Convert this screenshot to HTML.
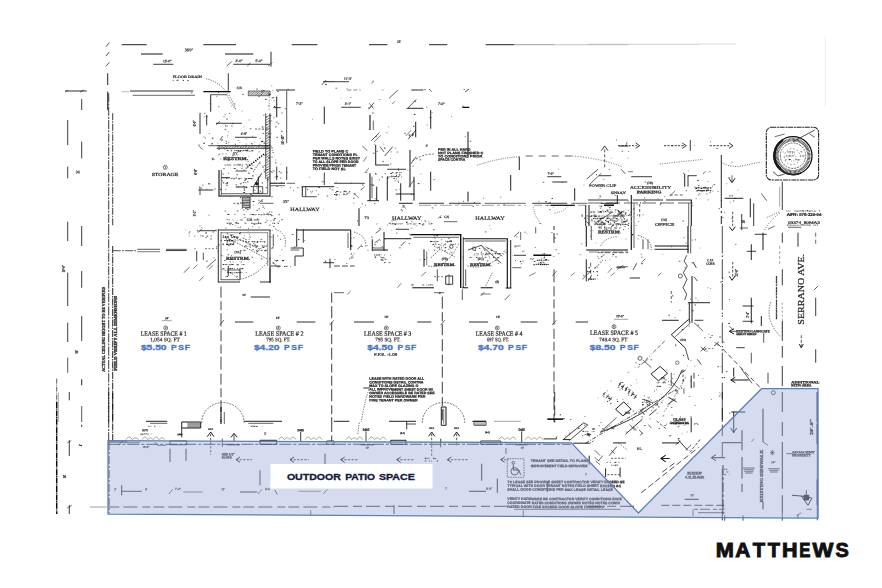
<!DOCTYPE html>
<html><head><meta charset="utf-8"><title>Floor plan</title>
<style>
html,body{margin:0;padding:0;background:#fff;}
body{width:882px;height:588px;overflow:hidden;position:relative;font-family:"Liberation Sans",sans-serif;}
svg{position:absolute;left:0;top:0;display:block}
</style></head><body>
<svg width="882" height="588" viewBox="0 0 882 588">
<rect width="882" height="588" fill="#fff"/>
<g fill="none" stroke-linecap="butt" filter="url(#soft)">
<path stroke="#0d0d0d" stroke-width="0.92" d="M121.7 44.7H146.7M203.3 44.7H236M291.7 44.7H317.3M141 54H162.7M225 54H253.3M107.7 73.3V85M107.7 91.7V110M210.7 94.7V111.7M270 113.3V196.7M276.7 96.7V117.3M221.3 177.7H230M258.3 176.7V193.3M323.3 81.7H334M324.3 106.7V124M301.7 186.7H334M302.3 186.7V196.7M369 44.7H387.3M429 44.7H447.3M406.7 108.3H423.3M415.7 121.7V137.3M430.7 110V128.7M468 131.7V155.3M375.7 145V165.3M410 150V187.3M519.3 156.7V170M510.7 175V190.7M430.7 171.7V190.7M468 191.7V200.7M574.7 188.3V200.7M376.7 186.7V200.7M387.3 176.7V200.7M400.7 183.3V200.7M414 176.7V200.7M367.3 200.7H379M600.7 203.3H618M399 203.3H412.7M359 208.3V226M585.7 205V226M589 205V226M721.3 155V196.7M729 178.3L732 182.7L735 178.3M724.7 198.3H743.3M750.3 198.3V217.3M721.3 196.7V200.7M684.7 174V186.7M617.3 195V203.3M81.7 379.3V385.3M240 269.3V279.3M296.7 228.7V246.7M270 257.7V282.7M372.3 239.3V251M384 232V251M372.3 250H388M384 238.7H411.3M424 249.3V266.7M510.7 240V288M586.3 259.3V281.3M654.7 246H688.7M654.7 249.3H688.7M692 276V322.7M689.3 302.7V322.7M688 302.7H710M662 320.3H678.7M688.7 319.3L671.3 334.7M671.3 334.7L685.3 348M722.3 255.7V257M722.3 280.7V282M722.3 312.7V314M722.3 315.3V316.7M722.3 346V347.3M722.3 349.3V350.7M722.3 377V378.3M751.3 244.3V260M763 232.7V250M751.3 297.7V323.3M729.3 276L732 280.3L735 276M729.3 226.7L732.3 230.7L735.3 226.7M761.3 316V326M734 328.7L729.3 331.3L734 334M731.3 380H748.7M735.3 377.3L730.7 380L735.3 382.7M733.7 367.7V376.7M81.7 424.7V426.7M108.3 442H126.7M260 440.3L276.7 440.3L276.7 444.3L260 444.3ZM146 421.3H167.3M181.7 422L200.7 422L200.7 428L181.7 428ZM244 421.3H282M207.3 436.7L210.7 432L214 436.7M231 437.3L234 433.3L237 437.3M240 457L236 459.7L240 462.3M294 457L290 459.7L294 462.3M121.7 485.3V495.3M441.3 407L446 407L446 425.3L441.3 425.3ZM334 421.3H349.3M389 421.3H416M472.3 421.3H486M428.7 436.3L431.7 432L434.7 436.3M453.7 436.3L456.7 432L459.7 436.3M390.7 440.3L406 440.3L406 444.3L390.7 444.3ZM344.7 457L340.7 459.7L344.7 462.3M400.7 457L396.7 459.7L400.7 462.3M451.3 457L447.3 459.7L451.3 462.3M504.7 457L500.7 459.7L504.7 462.3M481.7 463.7V480.7M497.3 478.7V492.7M469 491.3H486M513.3 464.3L513.3 470L518.7 470L520.7 474.7M547.3 419.5H563M615.6 409.2L623.8 401.9L631.1 409.2L622.9 415.9ZM651.1 374L660.2 366.4L667.5 373.3L658.4 380.9ZM562.8 439.6H570.1M573.2 443.2H589.5M691.2 375.5V388.2M691.2 417.4V432.3M662 442.9H678.8M660.9 458.5H669.7M612.9 442.9H626M589.2 455.6V464.7M605.6 468.4V477.1M620.1 467.4V477.1M733.7 412V432.7M730.7 428L733.7 432.7L736.7 428M731.3 412H745.3M716 454.7L711.3 457.7L716 460.7M711.3 457.7H725.3M723 442.7H741.3M742 430.3V450.3M742 457V478.7M742 483.7V492M763 408.7V442M763 502V509.3M782.3 392V412M782.3 422V436M782.3 442V488.7M782.3 495.3V512.7M792 495.3L801.3 496L808 505.3L812 498L801.3 496M684.7 499.3H698.7"/>
<path stroke="#0d0d0d" stroke-width="0.82" d="M153.3 64.3H173.3M233.3 64.3H270M271 51.7V66.7M65 91H86.7M81.7 99V110M67.7 120V145M81.7 141.7V158.3M67.7 166.7V178.3M67.7 221.7V226M130 91H193.3M228.3 73.3V90.7M276 90H295M273.3 107.7H280.7M216 123.3H241.7M235 137.3H256.7M200 113.3V134M206.7 115.3V125.3M216.7 148.3H270M235.7 187H246.7M253.3 186.7L261.7 173.3M198.3 190H213.3M250 196.7V208.7M276.7 166.7V180M286.7 166.7V180M324.3 173.3V185M334 81.7H349M411.3 90H423.3M341.3 107.3H360.7M375.7 165H389M547.3 176.7H561.3M552.3 182H567.3M601.3 150.7L604.7 146L608 150.7M619.3 146H628M599 175.7H611.3M334 183.3H364.7M387.3 169.3H406M395.7 194H414.7M419 203.3H444M449 203.3H480.7M532.3 203.3H567.3M635.7 143L639.7 145.7L635.7 148.3M682.3 143L686.3 145.7L682.3 148.3M729 143L733 145.7L729 148.3M690.3 140V150.7M782.3 181.7V210M741.7 214V230M753.7 203.3V226M631.3 176.7H652M688 175.3V186.7M688 175.7H696.7M588 200H628M67.7 226V241M81.7 226V246M67.7 272.7V306M81.7 271V287.7M81.7 316V341M67.7 322.7V342M218.3 230H270.7M270 230V259.3M270 267.7V282.7M218.3 282H240M260 282H270.7M228.3 266V276M196.7 251V261.3M199.3 230.7H216.7M303.3 229.3V242.7M290.7 248L303.3 248L303.3 256L295 256L295 266M323.3 262.7H334M330 258.7V268M250.7 297H270M235 322H253.3M296.7 322H315.3M395.7 229.3H409M463.3 237.3V288M445.7 276L452.7 276L452.7 284.3L445.7 284.3ZM514 255.3H526M354 322H374M417.3 322H431.3M469 322H488M520.7 322H537.3M575.7 322H588M363.3 388H369.3M629.7 278H640M693 262L696.3 267.7M694.7 320.3H703.3M746.7 251.3H756M754.7 234.3H766.7M742.7 306H753.3M742.7 321.3H753.3M782.3 232.7V242.7M782.3 269.3V285.3M782.3 321V341M782.3 346V357.7M782.3 366V386M799.3 344L801.3 348L803.3 344M798 232.7V246.7M815.7 297.7V316M815.7 349.3V362.7M736.3 347.7H744.7M69.3 392V400.3M69.3 440.3V456M69.3 505.3V514M170 441L186.7 441L186.7 444.7L170 444.7ZM326.7 441L334 441L334 444.3L326.7 444.3ZM181.7 428V437.3M300.7 432V442M170 448.7V462M186 448.7V460.7M325 453.7V464M260 470.3V485.3M121.7 491.3H141.7M240 492H257.3M547.3 418.7H564.7M406.7 421.3V429.3M521.7 431.3V442.7M480.7 441L500.7 441L500.7 444.3L480.7 444.3ZM440.7 438.7V447.3M512 462.7a1.3 1.3 0 1 0 2.6 0a1.3 1.3 0 1 0 -2.6 0M511 471.3a3.7 3.7 0 1 0 7.4 0a3.7 3.7 0 1 0 -7.4 0M547.3 481.3V492M394 505.3V514M618.7 386L621.2 382M621.8 388.6L624.3 384.6M624.9 391.1L627.4 387.1M628 393.7L630.5 389.7M631.1 396.2L633.6 392.2M634.2 398.8L636.7 394.8M563.7 439.2L583.7 422.8M543.6 438.9H556.4M625.6 434.1L642.4 419.2M649.3 415.5L656.6 409.2M668.4 397.3L676.6 401.9M678.4 439.9L687.9 450.5M722.3 509.3V520.3M806.3 490.3V496"/>
<path stroke="#0d0d0d" stroke-width="0.61" d="M226.7 66L231.7 61.7M247.3 66L250.7 62.7M268.3 66L272.3 62M80 92L84 90M216 124.7L220 121.3M220 140L222.7 136M199.3 146.7L202.7 149.3M221.3 170V195M221.3 193.7H267.7M270 185.7H285M267.7 176.7V193.7M242.3 196.7V208.7M258.3 203.3L262.7 199.3M260 203.3H273.3M286.7 183.3H295M321.7 85L326 80M371.3 83.3L374 80.7M389 98.3L398 90M429 89L431.7 91.7M373.3 120.7V130M380 146.7L384 152M362.3 146L367.3 150.7M410.7 164L416 156.7M590 184L601.3 173.3M372 176.7V198.3M409 186.7L414 180M402.3 205L405.7 208.3M444 221.7H457.3M617.3 210L624 218.3M732 175.3V182M774.7 136.7L784.7 134M809.7 134L814.7 137.3M761.3 193.3L766.7 200.7M625.3 174L621.3 169.3M634 203.3V226M688.7 203.3V226M594.7 223.3L613 211.7M617.3 216.7L623.3 210.7M221 279.7H240M226.7 270H240M184 272.7L189.3 267.3M206.7 267.7L216 259.3M198 232.7L202 228.7M290.7 250H299.3M329.7 325L333.7 320.3M220 324.7L224 320M348 232.7V248M357.3 249.3L362 244.7M373.3 248H384M374.7 242.7L380 239.3M375.7 233.3L380.7 229.3M334 292.7H344M400.7 246L405.3 241.3M413.3 237.3H459M464.7 241H505.7M449.6 246.7a1.7 1.7 0 1 0 3.4 0a1.7 1.7 0 1 0 -3.4 0M472.3 248.7a1.7 1.7 0 1 0 3.4 0a1.7 1.7 0 1 0 -3.4 0M449 274.3V285.3M434 292.7H444M504.7 300L510 294.7M514 236.7L519.3 232M520.7 232V240M512.3 267.7H521.3M440.7 325L444.7 320.3M552 325L556.3 320.3M582.3 279.3L590.7 271M617.3 269.3L623.3 265.3M616.7 266.7H628M634 226V248M648 239.3V249.3M588 281L591.3 276M678.3 276a2 2 0 1 0 4 0a2 2 0 1 0 -4 0M694 322.7L703 331M690.7 322.7L675.3 336.7M638 358.3a2 2 0 1 0 4 0a2 2 0 1 0 -4 0M643 360L651.3 367.7M700.7 346.7L705.3 351.3M671.3 372.7V386M739.7 228H748M768 229.3L774.7 226M788 227.3H801.3M814 290L818 286M729.3 326L733.3 330M67.3 508L71.7 505.3M125 442.7H140M155 442L157.3 445.3L166 445.3M150 423.3H167.3M224.3 412V424M248.3 423.3H273.3M168.7 494L172.7 489.3M258 494L262 489.3M323.3 494L327.3 489.3M310.7 510.3V516M523.3 510.3V517.3M619.1 383.5L620.9 384.6M622.1 386L624 387.1M625.2 388.6L627.1 389.7M628.3 391.1L630.2 392.2M631.4 393.7L633.3 394.8M634.5 396.2L636.4 397.3M600.5 431.9L616.5 417.7M629.6 424.6L635.1 430.5M639.8 409.2L644.7 414.6M642 399.1L652.9 402.8M674.8 390L678.4 393.7M670.2 380.9L678.4 388.2M640.2 435.6L642.4 432.8M648.4 424.6L651.1 427.9M632.9 426.5L636.5 430.1M683.9 388.2V393.7M685.7 450.1L691.2 444.7M611 450.1L614.7 453.8M594.6 450.1L600.1 455.6M598.3 461.1L602.8 455.6M595.6 461.1L600.1 464.7M770 452.7H774.7M772.3 450V455.3M806.3 509.3H812M796.3 516L801.3 512.7M798 514V518.7M693 509.3V516M763 442L768 445.3"/>
<path stroke="#0d0d0d" stroke-width="0.71" d="M106 46.7L109.3 42.7M106 56L109.3 52M106 66.3L109.3 62.3M210.7 94.7H226.7M265.7 113.3V176.7M286.7 90.7V143.3M208.3 145.7H216.7M235.7 171H246.7M253.3 186.7L262.7 186.7L262.7 193.3L253.3 193.3ZM200 186.7V195M242.3 197.3H250M242.3 199H250M242.3 200.7H250M242.3 202.3H250M242.3 204H250M242.3 205.7H250M242.3 207.3H250M305.7 186.7V196.7M302.3 196.7H316.7M465 92L469 89M368.7 109.3L374 102.7M408 108L416.3 99.3M371.3 140.7L379.3 132.7M408 139.3L416 130M384.7 156L392.7 146.7M586.7 179L598 169.3M793 141.7L814.7 130M773 171.7L778 176L784.7 174M618 210L624 216.7M137.3 249.3H160M67.7 357.7V372.7M81.7 406V422M203.3 252.7V260M273.3 234.3V246.7M270 266H280.7M468 250L481.3 245.3L501.3 263.3M437.3 269.3V281.3M465.7 269.3V286M462.3 289.3V300M535.7 227.3V233.3M591.3 226V240M690.7 226V253.3M643 239.3V249.3M616.3 267.7H625.3M633 270L636.7 263.3M686.7 255.3L684 261L687.3 266L683.3 272.7L687 279.3L683 287.7L686.7 294.3L684.7 300M694 276.7L697.3 281M685.3 348L688.7 360M697.3 359.3L701.3 364.7M700.7 351.3L705.3 346.7M714 346L718.7 342M763.7 332.7V342.7M751.3 352.7V363.3M768 372.7V383.3M729.3 331.3H736.7M741.3 368.7L752 383.3M771.3 392.7a2 2 0 1 0 4 0a2 2 0 1 0 -4 0M118.3 445L123.3 441M178.3 434.7H181.7M234 434.7V442M222.3 438.7V447M274.7 490L277.3 494.7M406.7 424H416M474 421.3L486 421.3L486 425.3L474 425.3ZM366 431.3V442M506 448V454M602.8 395.7L605.4 392M606.1 398.2L608.7 394.6M609.4 400.8L611.9 397.1M569.1 440.7L587.7 425M583.7 422.8L587.7 425M556.4 436.5V439.2M638.4 413.7L645.6 407.3M667.5 404.6L675.7 398.8M680.3 373.6L685.7 370M639.3 430.1L642.9 433.8M675.7 444.7L680.3 441M609.2 455.6L616.9 446.5M743 468H754.7M743.7 469.7H754M744.3 471.3H753.3M745 473H752.7M768 468.7H779.7M769 470.3H778.7M770 472H777.7M786.3 453.7H792M698 512.7H724.7M724.7 515.3V520.7M743 515.3V520.7M782.3 512.7V520.7"/>
<path stroke="#0d0d0d" stroke-width="0.82" stroke-dasharray="9 1.2 2 1.2" d="M108.7 93.3V226M108.7 226V422M108.7 392V442"/>
<path stroke="#0d0d0d" stroke-width="0.82" stroke-dasharray="7 1 1.5 1" d="M112.7 113.3V226"/>
<path stroke="#0d0d0d" stroke-width="0.51" d="M65 92L68.3 90.3M265.7 117.7L270 115M265.7 120.3L270 117.7M265.7 123L270 120.3M265.7 125.7L270 123M265.7 128.3L270 125.7M265.7 131L270 128.3M265.7 133.7L270 131M265.7 136.3L270 133.7M265.7 139L270 136.3M265.7 141.7L270 139M265.7 144.3L270 141.7M265.7 147L270 144.3M265.7 149.7L270 147M265.7 152.3L270 149.7M265.7 155L270 152.3M265.7 157.7L270 155M265.7 160.3L270 157.7M265.7 163L270 160.3M265.7 165.7L270 163M265.7 168.3L270 165.7M265.7 171L270 168.3M265.7 173.7L270 171M265.7 176.3L270 173.7M265.7 179L270 176.3M163.3 167.3a2 2 0 1 0 4 0a2 2 0 1 0 -4 0M369.3 103.3L373.3 108.7M392.3 104L394.7 101.3M374 142L380.7 135.3M405.7 136L411.3 130M363.3 161.7L366.7 156.7M364.7 173.3L368.7 168.3M354 193.3L359 198.3M360.7 190L364.7 186.7M438 218.7L441.3 215.3M615.7 216.7L622.3 211.7M628 171.7H633M703 174L705.3 171.3M669.7 196L675.3 190.7M166 249.3H186.7M193.3 268.7L197.3 264.7M208.7 269.3L213.3 265.3M199.3 281L203.3 276.7M273.3 262.7L278.7 268M163.7 328a2 2 0 1 0 4 0a2 2 0 1 0 -4 0M276.3 328a2 2 0 1 0 4 0a2 2 0 1 0 -4 0M349 259.3L353.3 255.3M347.3 294.3L350.7 291M426.7 251.3V265.3M485.7 246.7L502.3 256M421.3 276L426 272M397.3 287.7L401.3 283.3M480.7 294H490.7M480.7 296L484.7 292M529 276L535.7 272.7M514 246H520.7M552.3 276L556.7 271M600.7 257.7L604.7 254.3M570.7 276L574.7 272.7M610.7 276L614.7 272.7M384.3 328a2 2 0 1 0 4 0a2 2 0 1 0 -4 0M495.3 328a2 2 0 1 0 4 0a2 2 0 1 0 -4 0M612 326.7a2 2 0 1 0 4 0a2 2 0 1 0 -4 0M594.7 268.7L599.3 264M608 272.7L612 268M641.3 262.7L645.3 258.7M658 276L661.3 272.7M644 363.3L648 359.3M675.6 362.7a1.7 1.7 0 1 0 3.4 0a1.7 1.7 0 1 0 -3.4 0M714.7 342L718.7 346M67.3 442.7L71.3 440.7M187.3 423.3H200.7M187.3 424.7H200.7M187.3 426H200.7M187.3 427H200.7M443.7 408.7V423.7M476 421.3V425.3M478 421.3V425.3M480 421.3V425.3M482 421.3V425.3M484 421.3V425.3M603.2 393.5L605 394.6M606.5 396L608.3 397.1M609.8 398.6L611.6 399.7M594.6 457.4L599.2 461.1M770.7 450.7L774 454.7M774 450.7L770.7 454.7M751.3 442L754 438.7"/>
<path stroke="#2a2a2a" stroke-width="0.71" d="M132.7 95.3H195M484.7 203.3H525.7M571.3 203.3H587.3M514 509.3H620.7"/>
<path stroke="#777" stroke-width="0.51" d="M121.7 91.7H129.3"/>
<path stroke="#0d0d0d" stroke-width="1.33" d="M203.3 91.7H230.7M550.7 205.3H574.7M460.7 234.7V288"/>
<path stroke="#161616" stroke-width="0.51" d="M248.3 91L270 91L270 95.7L248.3 95.7ZM248.3 92.7L250 91M248.3 94.3L251.7 91M248.7 95.7L253.3 91M250.3 95.7L255 91M252 95.7L256.7 91M253.7 95.7L258.3 91M255.3 95.7L260 91M257 95.7L261.7 91M258.7 95.7L263.3 91M260.3 95.7L265 91M262 95.7L266.7 91M263.7 95.7L268.3 91M265.3 95.7L270 91M267 95.7L270 92.7M268.7 95.7L270 94.3M241 168.5L242.8 168.2M606.3 218.2L608.6 218M804.5 210.8L806.3 211.1M597.4 211.7L599.2 212.1M248.8 246H250.8M610 462.3L611.1 462.5"/>
<path stroke="#161616" stroke-width="0.61" stroke-dasharray="1.2 1.2" d="M206 78.7Q226.7 83.3 236 110"/>
<path stroke="#161616" stroke-width="0.8" d="M172.7 80.3L173.7 80.4M176.5 80.4L178.6 80.1M230.9 150.9L231.9 150.7M253.3 182.6H253.3M272.9 220H274.6M230.5 223.6L231.5 223.4M390.7 176.6L391.8 176.8M596.6 218.3L598.5 218.2M622.2 224.5L623.7 224.7M699.8 188.1H700.9M222.7 268.6L224.5 268.9M283.9 266.7L285.6 266.2M546.2 260.1L547.4 260.3M538 264.5L539.5 264.3M606.5 462.5H607.5"/>
<path stroke="#161616" stroke-width="0.84" d="M182.8 80.5L184 80.3M627.7 224.5L628 224.6M432.4 244.6L434.2 244.3M596.4 271.7H597.9M426.4 458.4L427.9 458.5"/>
<path stroke="#161616" stroke-width="0.54" d="M187 80.6L189 80.5M396 172.6L398.1 172.7M600.9 221.1L602 221.2M787.4 151.9L789 152.2M794.2 210.8L795.2 211.3M588 216.2L590 216.1M616.3 216.1L617.8 216M241.5 264.4L242.5 264.5M194.1 236.2L195.3 236.1M290.1 266.7L291 266.6M586.8 431.7H588.3"/>
<path stroke="#0d0d0d" stroke-width="0.51" stroke-dasharray="1 1" d="M226.7 95L235 109.3"/>
<path stroke="#4a4a4a" stroke-width="0.51" stroke-dasharray="1.5 1.5" d="M269.3 96.7V111.7"/>
<path stroke="#161616" stroke-width="0.93" d="M225.4 126.2L226.1 126.1M620.6 212.1L622.1 211.9M240.1 272.7L241.2 272.5M494.7 253.7H496.1M426.5 284.9L427.1 284.7"/>
<path stroke="#161616" stroke-width="0.5" d="M226.4 126H227.8M236.4 164.9L238.5 165M241.9 164.8L242.9 165M599 221.5L600.4 221.1M602.6 221.4L603.3 221.3M595.1 224.6L596.1 224.5M793.9 152.1L795.2 152.2M611 212.2H612.7M613.5 224.1L614.7 223.8M150.4 426.1L151.5 426.2M584.6 431.7L586.6 431.5"/>
<path stroke="#161616" stroke-width="0.59" d="M231.1 125.7L232.8 126.2M234.5 164.9L235.6 165.2M622.6 221.1L623.3 221.5M811.4 210.9L812.9 211.1M227.6 268.6L228.6 268.5M233.8 272.9L235.4 272.6M258 250.5H259.1M584.6 434.6L586.1 434.5"/>
<path stroke="#0d0d0d" stroke-width="0.61" stroke-dasharray="2 1.5" d="M255 129H268.3M233.3 203.3H241.7M226.7 233.3L260 249.3M611 458.3H625.6"/>
<path stroke="#0d0d0d" stroke-width="1.02" d="M216.7 145.7H270M219 170V196.7M219 196H270M270 183.3H285M370 115V130M370 173.3V200.7M631.3 195V226M691.3 200V226M296.7 230H334M334 230H350.7M350.7 230V250M412.3 287.7H434M462.3 287.7H468M480.7 287.7H492.7M505.7 288H511.3M586.3 226V246.7M586.3 250H628M665.7 455.2L660.9 458.5L665.7 461.8"/>
<path stroke="#0d0d0d" stroke-width="0.41" d="M218.3 148.3L220.3 145.7M221 148.3L223 145.7M223.7 148.3L225.7 145.7M226.3 148.3L228.3 145.7M229 148.3L231 145.7M231.7 148.3L233.7 145.7M234.3 148.3L236.3 145.7M237 148.3L239 145.7M239.7 148.3L241.7 145.7M242.3 148.3L244.3 145.7M245 148.3L247 145.7M247.7 148.3L249.7 145.7M250.3 148.3L252.3 145.7M253 148.3L255 145.7M255.7 148.3L257.7 145.7M258.3 148.3L260.3 145.7M261 148.3L263 145.7M263.7 148.3L265.7 145.7M266.3 148.3L268.3 145.7M269 148.3L271 145.7"/>
<path stroke="#161616" stroke-width="0.88" d="M226.7 150.7L227.9 150.4M335.6 194.3L337.7 194.6M608.2 221.6L609.1 221.3M791.6 156L792.6 155.8M817.1 224.9L818 225.1M276.3 260.6L278.2 260.4M670.8 423.5L672.1 423.6"/>
<path stroke="#161616" stroke-width="0.61" d="M228.3 150.4L229 150.6M235.3 150.7L237.1 150.4M230.6 178.6L232.3 178.5M266 220.1L266.7 219.9M620.2 218H622.1M799.3 210.9H801.2M225.4 276.6L226.2 276.9"/>
<path stroke="#161616" stroke-width="0.67" d="M233.9 150.6L234.8 150.8M376.6 224L377.5 223.7M789.1 151.8L791.4 151.9M804.3 159.6L804.7 159.8M818.8 210.9L820.2 210.8M622.2 216L622.9 215.8M616.5 220.2L618.3 220M255.9 250.4L257.6 250.2M431.9 285L433.1 285.2M586.8 434.5H588.8M657.9 382.8L659.4 382.6"/>
<path stroke="#161616" stroke-width="0.83" d="M237.4 150.6L239.2 150.7M250.2 168.1L251.8 168.4M251.1 223.3L252.4 223.2M392 172.7L393.2 172.5M600.4 224.4L602.4 224.5M800.5 155.6L801.2 156M588 223.7L589.3 224M141.2 434.1L143.1 434.3M589.5 434.6L591.1 434.4"/>
<path stroke="#161616" stroke-width="0.87" d="M239.5 150.5L241.5 150.7M226.7 182.6L228.1 182.7M251.7 214.4L254 214.7M253.9 220L255.4 219.9M788.8 159.5H790.7M598 216.2L600.2 216M618.7 219.8L619.4 219.9M251.6 241.6H252.9M384.3 258.1L384.7 258M450.3 241.5L451.9 241.6M444.4 244.7L445.4 244.3M594.6 278.9L595.9 279.1M252.3 426.1L253.8 426.2M655.1 405H655.8"/>
<path stroke="#161616" stroke-width="0.81" d="M242.3 150.9L244.1 150.5M246.1 178.6L247.5 178.8M252.7 223.4L253.5 223.5M603.1 224.4L604.9 224.7M788.9 155.8L790.8 156.1M787 225.3L788.6 225M235.9 272.6L237.8 272.9M202.2 236.1H203.6M210.8 235.7L211.7 236.1M487.8 253.9H490M154.1 426.3L155.3 426.1M664.9 382.7L665.7 382.8M618.4 462.3H619.3"/>
<path stroke="#161616" stroke-width="1.01" d="M244.8 150.4L245.7 150.8M545.9 264.7L547.6 264.4"/>
<path stroke="#161616" stroke-width="0.9" d="M246.3 150.8L248.4 150.7M259.5 223.3L261.3 223.4M601.8 218L604.1 218.3M699.3 190.7L700.5 190.6M599.5 211.8H600.8M599 224.1L601 224M231.2 264.4L233.5 264.5M384.1 255L384.7 254.8M587 271.7H588.6M429.2 460.8L430.1 461.1M430.9 460.8L431.6 461.2"/>
<path stroke="#161616" stroke-width="1.14" d="M251.4 150.8L253.2 150.7"/>
<path stroke="#0d0d0d" stroke-width="1.33" stroke-dasharray="1.4 1.1" d="M247.3 167.3L265 153.3"/>
<path stroke="#0d0d0d" stroke-width="0.82" stroke-dasharray="1 1.2" d="M253.3 171.7L260 161.7"/>
<path stroke="#0d0d0d" stroke-width="0.82" fill="#222" d="M255.4 183.7a1.3 1.3 0 1 0 2.6 0a1.3 1.3 0 1 0 -2.6 0M804 495.3L808.7 495.3L808.7 500L804 500Z"/>
<path stroke="#161616" stroke-width="0.53" d="M224.4 165L226.5 165.2M616.7 218.4L618.1 218.5M400 224L401.6 223.8M428.5 223.9H430.6M813 225.2L813.9 224.9M233.9 268.9L235.2 268.7M245.6 246.2L247.5 246.1M449.8 244.3L451.9 244.4"/>
<path stroke="#161616" stroke-width="0.71" d="M227 164.9L228.7 165.1M234.5 214.4L235.5 214.6M343.5 191.7L344.3 191.6M619.9 224.6L621.3 224.5M622.4 212L624.3 211.9M590.6 216.2L592.6 215.8M381.9 257.7L384 257.8M480.7 254H482.1M427.8 285.3L428.7 285.1"/>
<path stroke="#161616" stroke-width="0.94" d="M229.4 164.8L230.3 165M257.8 223.3L259 223.2M334 194.4L335.2 194.7M614.4 221.3L615.8 221.1M626.5 224.5L627.3 224.6M431.1 223.8L432.3 223.6M707.3 187.9L709.2 187.8M229.4 268.7L231.5 268.6M227.3 272.6L228.8 272.4M226.5 276.5H227.9M265 250.4H266.7"/>
<path stroke="#161616" stroke-width="0.7" d="M233.5 165.1H234.3M387.3 176.8L388.1 176.5M608.8 218.4H610.5M606.2 221.1L607.8 221.6M422.8 223.8L424.3 224M795.3 159.7L796.7 159.6M794.3 225.2L795.8 225.3M245.8 272.5L246.7 272.6"/>
<path stroke="#161616" stroke-width="0.77" d="M239 165.1L241.2 164.8M265.7 214.4H266.9M237.4 223.3L239 223.5M401.3 176.8H402M594 221.1H595.4M393.6 224L395.9 223.8M796.5 211.2L798.7 211.1M611.4 220.2L613.3 219.8M648.4 405.1H649.7"/>
<path stroke="#161616" stroke-width="0.52" d="M246.6 165.1L248.3 165.2M243.4 214.5L245.3 214.6M232.5 219.8L233.5 220.2M388.6 176.7H390M392.3 176.7L393.8 176.6M594 218.1L595.9 218.3M612.5 218.2H614.8M611.9 221.1L614.1 221.2M796.5 225.3L798.7 225M804.1 225L805 225.1M621 220L622.9 219.8M435.3 241.4L437 241.2M477.3 253.9L479.1 254.1M151 434.2L151.7 433.8M649.2 402.3L650.1 402.4M612.9 465.3H614.4"/>
<path stroke="#161616" stroke-width="0.98" d="M248.8 164.9L250.5 165.3M391.8 223.9L393.4 223.7M231.8 244.3H234.1"/>
<path stroke="#161616" stroke-width="0.78" d="M252.9 164.9L253.3 165.1M248 178.6L250.1 178.5M594 224.5L594.8 224.3M593 211.9L595.2 212.1M602.7 211.9H604.2M606.4 216.1L607.8 216.2M618.3 215.9L619.2 216.1M232 268.7L233.1 268.5M238.3 272.5L239.8 272.6M449 241.3H450M543 260.2L543.8 260.3M597.5 267.7L598 268M250.7 426.4L251.8 426.3M656.6 386.3H658.8M725.5 469.5L727.4 469.2"/>
<path stroke="#161616" stroke-width="0.73" d="M233.7 168.5H235.7M245.5 182.5L246.3 182.8M267.2 214.6L268.9 214.9M786.3 210.9L787.1 211.2M806.7 225.1L808.3 224.9M595.5 216.2L597.3 216.1M609.7 220.3L611.1 220.1M429.3 285.1L431.6 284.7"/>
<path stroke="#161616" stroke-width="0.68" d="M245.4 168.1L247.1 168.2M233.1 178.8L235.4 178.7M260.5 214.9L262.5 214.5M346.7 194.6H347.3M415.3 224L416.4 223.7M236.3 276.6L237.8 276.4M243.3 250.3H245.6M486 253.7H487.5M492.3 254L493.3 253.8M484.7 257.4L486.4 257.3M589 271.6H591M724 474.6H726.1M729 474.9L729.3 474.4"/>
<path stroke="#161616" stroke-width="0.96" d="M238.2 178.8L240 178.9M792.2 152H793.2M806.7 210.8L808 210.7M815.5 211.2L816.1 211M241.6 268.6H243.3M265.9 246.2L266.7 246.1M281.9 260.5L284.1 260.7M380.9 257.8L381.6 257.7M411.3 285H413.5"/>
<path stroke="#161616" stroke-width="0.64" d="M240.6 178.4L241.3 178.8M244.4 223.1L246.4 223.3M608.3 224.3L609.6 224.5M792.4 225.4L793.9 225.2M801.1 224.9L802.1 225.2"/>
<path stroke="#161616" stroke-width="0.57" d="M244.4 178.7L245.8 178.8M344.7 191.6L347 191.7M795.5 210.8L796.2 210.9M260.5 241.6L262.7 241.7M435 244.3L436.3 244.5M262.2 426.5L262.7 426.2"/>
<path stroke="#161616" stroke-width="0.95" d="M250.3 178.4L252.3 178.8M274 223.5L275.1 223.2M390.3 223.7L391.1 224M787.8 211.2L788.6 211M697.7 190.5H699.1M623.7 215.9L624.5 215.8M229.6 272.4L231.6 272.9M256.9 241.7L258.4 241.6M256.1 246.1L258.2 246M430 241.6L432.3 241.5M614.8 465.3L616.6 465.2M724 469.4L724.8 469.2"/>
<path stroke="#161616" stroke-width="0.58" d="M252.7 178.5L253.3 178.7M254.3 223.3H255.6M398.9 172.7L400.6 172.6M793.1 156.1L794 155.6M588 219.8L589 220M605.5 220.2L606.5 219.8M263.4 241.6L265.4 241.5M380.8 254.8L381.5 255M432.7 241.8L434.9 241.5M594.3 434.4L594.6 434.3M662.2 382.8L664.4 382.7"/>
<path stroke="#161616" stroke-width="0.69" d="M242.9 182.5L244.4 182.7M240.9 219.8L242.7 220.2M593 215.9L595 216.3M228.7 244.1L229.6 244.3M261.4 245.8L263.2 246.2M497.1 257.6L499.3 257.7M145.3 433.9L147.2 433.7M646.3 402.2H648.6"/>
<path stroke="#161616" stroke-width="0.92" d="M243.3 186.2L244.3 186.7M250.8 186.4L252.5 186.6M485.7 44.7H514M498.5 253.8L500.7 253.6M548 260L548.7 260.3M535.7 264.4L537.5 264.3"/>
<path stroke="#161616" stroke-width="0.89" d="M227.4 214.6L229.4 214.4M269.5 214.5L271.6 214.9M228.7 219.9H229.6M251.4 219.9L252.2 220M418.7 223.6L420.8 223.8M797.4 159.9L798.9 159.8M801.7 210.8L804 211M601 212.2L601.9 212M445.6 241.3L446.6 241.6M597.7 279.1L598 279.3M148.3 426.1L149.5 426.6M143.5 434.1L144.8 433.9"/>
<path stroke="#161616" stroke-width="0.55" d="M254.3 214.9L255.1 214.8M400.9 172.7H402M804.1 155.7L804.7 155.6M799.5 225.4L800.7 225.3M231.9 272.8H233.3M241.9 272.8L242.7 272.5M274.7 260.3L275.9 260.5"/>
<path stroke="#161616" stroke-width="0.76" d="M255.4 214.8L256.3 214.5M401.9 223.6L402.7 223.7M808.7 225.4L810.7 224.9M603.4 215.9H604.3M375.6 255.1L377.8 255M140 434.3L140.8 433.9M656.5 405L657.3 404.9M617.3 465.1H618.2M726.1 472L728.5 471.9"/>
<path stroke="#161616" stroke-width="0.62" d="M258 214.6L259.7 214.5M263.3 214.9L265 214.5M255.6 220.1L257.2 219.8M625.1 221.2L626.9 221.5M627.5 221.3L628 221.1M814.5 225.1L816.3 225.2M242.9 264.6L244.6 264.5M452.2 244.3L454.1 244.7M474.5 254.1L475.2 254M422.1 284.8L424.3 285.3"/>
<path stroke="#161616" stroke-width="0.63" d="M278.4 214.8L280 214.7M257.6 220L259.4 219.8M409.7 223.6L411.5 224M255.4 241.8L256.1 241.7M656.6 382.8H657.5"/>
<path stroke="#161616" stroke-width="0.79" d="M239.8 219.8L240.6 219.9M277.7 223.4L278.9 223.5M395.1 176.5L397.4 176.7M808.6 211.2H810.8M612.4 216.1L613.3 216M231.1 237.3H233.1M222.7 244.5L224 244.1M236.6 264.7L238.9 264.8M216.5 236L216.7 235.8M278.2 266.4L279.7 266.6M469.5 257.6L470.8 257.4"/>
<path stroke="#161616" stroke-width="0.82" d="M226.7 223.2H228.5M343.2 194.3L344.7 194.5M397.9 176.7L399.3 176.6M617.8 224.2L619.6 224.3M786 155.9H787.2M609.9 212.2L610.7 212M200.5 235.9L201.5 235.8M206.6 236L208.2 236.2M493 257.3L494.5 257.6M533.3 264.7H535M682.1 370Q667.5 408.3 600.1 432.3M614.4 462.5L616.4 462.3"/>
<path stroke="#161616" stroke-width="0.49" d="M256.2 223.2L257.4 223.6M789.4 211.1L790.6 210.8M188.8 235.7L189.7 235.8"/>
<path stroke="#161616" stroke-width="0.6" d="M272 223.2L273.5 223.1M394 176.9L394.9 176.8M615.7 224.2H617.1M607.9 216H609.6M604.5 224.3L606.3 223.9M225 264.6L227.2 264.4M227.7 264.7H228.4M260.7 250.6L262.5 250.3M374 254.7L375.1 255"/>
<path stroke="#707070" stroke-width="0.71" d="M514 44.7H554"/>
<path stroke="#999" stroke-width="0.61" d="M554 44.7H628"/>
<path stroke="#3a3a3a" stroke-width="0.61" stroke-dasharray="4 2" d="M347.3 90H360.7"/>
<path stroke="#0d0d0d" stroke-width="1.22" d="M462.3 107.3H469.3M774 155.7a19 19 0 1 0 38 0a19 19 0 1 0 -38 0M410.7 234.7H461.3"/>
<path stroke="#161616" stroke-width="0.61" stroke-dasharray="2 1.5" d="M412.7 160.7Q422.3 154 434 154"/>
<path stroke="#161616" stroke-width="0.61" stroke-dasharray="1 1.2" d="M477.3 165.3Q497.3 158.3 519.3 156.7"/>
<path stroke="#2a2a2a" stroke-width="0.71" stroke-dasharray="7 6" d="M525.7 156H572.3"/>
<path stroke="#161616" stroke-width="0.61" stroke-dasharray="1 1.6" d="M572.3 156Q600.7 158.3 622.3 166.7"/>
<path stroke="#0d0d0d" stroke-width="0.71" stroke-dasharray="3 2" d="M604.7 149.3V168.3"/>
<path stroke="#161616" stroke-width="0.86" d="M336.1 191.6L338.5 191.3M598.9 224.7H599.6M802.6 224.9L803.5 225.4M590.2 212.2L592.4 212M619.5 216.2L620.7 215.9M248.1 241.7L249.4 241.6"/>
<path stroke="#161616" stroke-width="0.75" d="M345.5 194.8L346.4 194.6M623.6 221.2H624.4M618.6 211.8L620 211.9M615.4 223.9L616.9 223.8M237 268.6L238.3 268.9M239.2 268.8H241.3M447.2 241.2L448.5 241.6M591.1 275.2L591.9 275.5M642 402.4H643.3"/>
<path stroke="#4a4a4a" stroke-width="0.51" stroke-dasharray="12 3 3 3" d="M419 205.3H525.7"/>
<path stroke="#4a4a4a" stroke-width="0.51" stroke-dasharray="8 3" d="M534 205.3H587.3"/>
<path stroke="#161616" stroke-width="0.97" d="M599.3 218.4H601.7M596.8 224.2H598.7M624.5 224.5L626 224.2M703 190.8L705.2 190.6M286.2 266.4L287.4 266.3M378.4 255.1L380 254.8M659.3 386.5L660.9 386.3"/>
<path stroke="#161616" stroke-width="0.85" d="M616.5 221.5L617.3 221.1M413.3 224H414.8M614 215.9L616.1 215.7M222.7 264.5H224.4M583.3 275.4L584.4 275.5M428.3 458.1L429.4 458.3M424.7 460.8L426.5 461"/>
<path stroke="#161616" stroke-width="0.72" d="M612.8 224.2L613.6 224.6M805.3 225.2L806.3 225.1M256 426.5H257.7M593.4 431.5H594.5"/>
<path stroke="#0d0d0d" stroke-width="1.43" d="M604 205.3H614M533.3 255.3H551.3"/>
<path stroke="#161616" stroke-width="0.51" stroke-dasharray="1 1.3" d="M533.3 206.7Q534 216.7 542.3 225M567.3 206.7Q564 211.7 554 213.3"/>
<path stroke="#161616" stroke-width="0.66" d="M398.3 224L399.5 223.7M802 156L804 156.1M228.9 264.8H231M147.6 434.2L148.8 434.1"/>
<path stroke="#b0b0b0" stroke-width="0.61" d="M588 44.3H698"/>
<path stroke="#c4c4c4" stroke-width="0.61" d="M698 44H736.3"/>
<path stroke="#ddd" stroke-width="0.51" d="M825.3 36.7V106.7"/>
<path stroke="#0d0d0d" stroke-width="0.82" stroke-dasharray="2.2 1.3" d="M618 145.7H637M664 145.7H683.7M709.7 145.7H730.3"/>
<path stroke="#161616" stroke-width="0.61" stroke-dasharray="1 1.4" d="M659.7 164Q681.3 161.7 703 159.3M764.7 230Q769.7 220 780.7 212.7"/>
<path stroke="#0d0d0d" stroke-width="0.61" stroke-dasharray="1 1.4" d="M721.3 162.7L729.7 166L738 166.7L761.3 162M767.3 217.3L779.7 211.7"/>
<path stroke="#0d0d0d" stroke-width="0.92" stroke-dasharray="8 3 2 3" d="M721.3 200V226"/>
<path stroke="#2a2a2a" stroke-width="3.26" stroke-dasharray="0.7 0.6" d="M777 155.7a16 16 0 1 0 32 0a16 16 0 1 0 -32 0"/>
<path stroke="#2a2a2a" stroke-width="0.71" stroke-dasharray="2 1" d="M780.3 155.7a12.7 12.7 0 1 0 25.4 0a12.7 12.7 0 1 0 -25.4 0"/>
<path stroke="#4a4a4a" stroke-width="0.61" stroke-dasharray="1.5 2" d="M784.3 156.7a8 8 0 1 0 16 0a8 8 0 1 0 -16 0"/>
<path stroke="#4a4a4a" stroke-width="0.61" stroke-dasharray="1 1.5" d="M788 157.3a4 4 0 1 0 8 0a4 4 0 1 0 -8 0"/>
<path stroke="#161616" stroke-width="0.56" d="M783 151.9L783.7 152M813.6 211.2L815.1 211.1M617.3 224L619.4 224.1M475.9 253.8L476.8 253.7M482.8 254.1L483.9 253.7M496.7 254L498.2 253.9"/>
<path stroke="#161616" stroke-width="0.65" d="M800.6 151.7L802.3 151.9M610.3 216L611.6 215.8M263.8 246L265.5 246.2M646.6 405.1L647.8 405M611 465.1L612.1 465.2"/>
<path stroke="#161616" stroke-width="0.91" d="M785.4 159.8L786.4 159.7M437.3 241.6L438.4 241.5M476 257.5H477.3M254 426.4L255.3 426.3M642 405H643.3"/>
<path stroke="#4a4a4a" stroke-width="0.51" d="M779.7 186.7V206.7M161.7 320.7H171.7M614 319.3H628M494 421.3H520.7"/>
<path stroke="#161616" stroke-width="0.74" d="M789.4 225.2H791.6M590.9 219.8L592.6 219.9M224 240.6L225.8 240.4M596.9 275.4L598 275.5M159.8 426.2L160 426.5"/>
<path stroke="#0d0d0d" stroke-width="0.71" stroke-dasharray="2.5 1.5" d="M732.7 211.7V227.3M732.7 262V278M210.7 434V454.7M431.7 433.7V446M456.7 433.7V446M431.7 445.3V456"/>
<path stroke="#161616" stroke-width="1.38" d="M695.3 188.2H696.9"/>
<path stroke="#161616" stroke-width="1.11" d="M697.3 187.9L699.5 187.8"/>
<path stroke="#161616" stroke-width="1.42" d="M701.1 188.2H702.2M705.8 190.6L707.7 190.5"/>
<path stroke="#161616" stroke-width="1.13" d="M702.8 187.9L704.5 187.8M226.2 244.4H228.4"/>
<path stroke="#161616" stroke-width="1.33" d="M705.1 188L706.7 187.9M817.3 392V422"/>
<path stroke="#161616" stroke-width="1.37" d="M710 188.1L711.3 187.9"/>
<path stroke="#161616" stroke-width="1.44" d="M701.3 190.9L702.5 190.8"/>
<path stroke="#161616" stroke-width="1.1" d="M708.3 190.4L709.4 190.5"/>
<path stroke="#161616" stroke-width="1.24" d="M710.2 190.8L711.3 190.5"/>
<path stroke="#0d0d0d" stroke-width="0.61" stroke-dasharray="3 2" d="M669.7 195H683M639.7 204V216.7M599 228H620.7M671.3 291V302.7M683 369.3V382.7"/>
<path stroke="#0d0d0d" stroke-width="0.82" stroke-dasharray="30 3" d="M633 200H692"/>
<path stroke="#2a2a2a" stroke-width="0.71" stroke-dasharray="14 4" d="M588 203H692"/>
<path stroke="#0d0d0d" stroke-width="0.51" stroke-dasharray="2 1.5" d="M601.3 226L619.7 213.3M205 248.7H215M434 276.7H444M704.7 348.7H714.7M647.5 397.3L658.4 406.4"/>
<path stroke="#0d0d0d" stroke-width="0.92" stroke-dasharray="7 1 1.5 1" d="M112.7 246V422M112.7 392V442"/>
<path stroke="#0d0d0d" stroke-width="0.71" stroke-dasharray="8 1.2 2 1.2" d="M112.7 250.7H136"/>
<path stroke="#2a2a2a" stroke-width="0.61" d="M137.3 251.7H160"/>
<path stroke="#4a4a4a" stroke-width="1.53" d="M166 250.3H186.7"/>
<path stroke="#777" stroke-width="0.61" d="M58.3 392.7V422M126 439.7Q129.2 434.3 132.3 439.7M132.3 439.7Q135.5 435.9 138.7 439.7M142 439.7Q144.8 434.3 147.7 439.7M147.7 439.7Q150.5 435.9 153.3 439.7M153.3 439.7Q156.2 434.3 159 439.7M159 439.7Q161.8 435.9 164.7 439.7M278.7 439.7Q281.6 434.3 284.4 439.7M284.4 439.7Q287.3 435.9 290.2 439.7M290.2 439.7Q293.1 434.3 296 439.7M305.3 439.7Q308.1 434.3 310.9 439.7M310.9 439.7Q313.7 435.9 316.4 439.7M316.4 439.7Q319.2 434.3 322 439.7M346 439.7Q348.8 434.3 351.6 439.7M351.6 439.7Q354.3 435.9 357.1 439.7M357.1 439.7Q359.9 434.3 362.7 439.7M368.7 439.7Q371.6 434.3 374.4 439.7M374.4 439.7Q377.3 435.9 380.2 439.7M380.2 439.7Q383.1 434.3 386 439.7M498.7 439.7Q501.6 434.3 504.4 439.7M504.4 439.7Q507.3 435.9 510.2 439.7M510.2 439.7Q513.1 434.3 516 439.7M525.3 439.7Q528.2 434.3 531.1 439.7M531.1 439.7Q534 435.9 536.9 439.7M536.9 439.7Q539.8 434.3 542.7 439.7"/>
<path stroke="#0d0d0d" stroke-width="0.87" d="M218.3 229.3V282.7"/>
<path stroke="#0d0d0d" stroke-width="0.56" d="M221 232V280"/>
<path stroke="#0d0d0d" stroke-width="0.46" d="M221 232.7H268M267.7 232.7V266"/>
<path stroke="#0d0d0d" stroke-width="0.61" stroke-dasharray="1.5 1.2" d="M222.7 235.3L266.7 258.7"/>
<path stroke="#161616" stroke-width="0.61" stroke-dasharray="1.5 1.2" d="M226.7 242.7Q240 236 253.3 246"/>
<path stroke="#161616" stroke-width="0.61" stroke-dasharray="1.5 1.3" d="M240 279.3Q256.7 276 268.3 261"/>
<path stroke="#161616" stroke-width="0.51" stroke-dasharray="1.5 1.3" d="M221.7 269.3Q233.3 272.7 240 281"/>
<path stroke="#161616" stroke-width="1.03" d="M222.7 236.9L224 237.3M540.6 260L542.3 260.3"/>
<path stroke="#161616" stroke-width="1.16" d="M224.6 237.2H226.2M436.8 460.7L438 461.1"/>
<path stroke="#161616" stroke-width="1.12" d="M226.8 236.9H228.9"/>
<path stroke="#161616" stroke-width="1.25" d="M233.7 237.2L235.6 236.9M593.2 271.7L593.9 271.6"/>
<path stroke="#161616" stroke-width="1.05" d="M236.2 237L238.5 237.2M594.6 268.1L595.3 267.7"/>
<path stroke="#161616" stroke-width="1.23" d="M226.3 240.8L228.1 240.7M230.7 240.8L232.6 240.5"/>
<path stroke="#161616" stroke-width="1.22" d="M228.7 240.4H229.9"/>
<path stroke="#161616" stroke-width="1.09" d="M229.9 244.1H231.5M537 260.3L538.2 260.4"/>
<path stroke="#161616" stroke-width="0.61" stroke-dasharray="1.4 1.3" d="M275 228.7Q288.3 234.3 285 246.7M354 232Q366.7 236 365.7 246.7M770.7 302Q764.7 321 780.7 336.7"/>
<path stroke="#161616" stroke-width="0.82" stroke-dasharray="11 3.5 9 3 13 4" d="M221 286.7V422"/>
<path stroke="#161616" stroke-width="0.82" stroke-dasharray="10 3.5 12 4 9 3" d="M331.7 292.7V422"/>
<path stroke="#0d0d0d" stroke-width="0.71" stroke-dasharray="6 2" d="M334 266H354.7"/>
<path stroke="#0d0d0d" stroke-width="1.12" d="M463.3 238.7H508M507.3 238.7V288M631.3 226V250M688 226V253.3M226.7 444.7H240M360.7 444.7H374M515.7 444.7H527.3"/>
<path stroke="#161616" stroke-width="0.61" stroke-dasharray="1.4 1.2" d="M428 266Q445.7 269.3 458 245.3M467.3 266Q490.7 271 505.7 249.3M638 235.3Q652 239.3 651.3 250"/>
<path stroke="#0d0d0d" stroke-width="0.61" stroke-dasharray="1.6 1.2" d="M430.7 258L449 240.7M434 246L454.7 256.7"/>
<path stroke="#0d0d0d" stroke-width="0.51" stroke-dasharray="1.5 1.2" d="M481.3 245.3L490.7 259.3M485.7 286L492.3 272.7"/>
<path stroke="#161616" stroke-width="1" d="M538.7 260.3L540 260.1M589.9 278.9L592.1 279.4M677.8 423.7L680.1 423.4"/>
<path stroke="#161616" stroke-width="1.26" d="M544.5 260.3L545.8 260"/>
<path stroke="#161616" stroke-width="1.17" d="M540 264.4L541.5 264.8"/>
<path stroke="#161616" stroke-width="1.07" d="M542.1 264.6L543.4 264.5M588.5 267.8L589.8 267.6"/>
<path stroke="#161616" stroke-width="1.27" d="M543.6 264.4L545.4 264.5M684.7 423.7H686.9"/>
<path stroke="#161616" stroke-width="1.3" d="M548.2 264.6L548.7 264.2"/>
<path stroke="#161616" stroke-width="0.82" stroke-dasharray="12 3.5 9 3 11 4" d="M442.3 296.7V422"/>
<path stroke="#0d0d0d" stroke-width="0.82" stroke-dasharray="4 3 10 3" d="M554 226V243.3"/>
<path stroke="#161616" stroke-width="0.82" stroke-dasharray="13 4 10 3 9 3.5" d="M554 269.3V422"/>
<path stroke="#0d0d0d" stroke-width="0.51" stroke-dasharray="10 2" d="M589 252H628"/>
<path stroke="#161616" stroke-width="0.51" stroke-dasharray="1.4 1.2" d="M600.7 246Q604 237.7 617.3 236.7"/>
<path stroke="#161616" stroke-width="1.28" d="M588.3 279.4L589.3 278.9"/>
<path stroke="#161616" stroke-width="1.08" d="M592.5 279.2H594.1"/>
<path stroke="#161616" stroke-width="0.61" stroke-dasharray="1.2 1.3" d="M371.3 382.7Q364.7 399.3 361.3 422"/>
<path stroke="#0d0d0d" stroke-width="0.51" stroke-dasharray="5 2" d="M598 252.7H628"/>
<path stroke="#0d0d0d" stroke-width="0.61" stroke-dasharray="4 3" d="M590.7 262.7V279.3M815.7 232.7V246"/>
<path stroke="#0d0d0d" stroke-width="0.61" stroke-dasharray="4 2" d="M664.7 341L651.3 354.3M648 357.7L638 367.7"/>
<path stroke="#0d0d0d" stroke-width="0.71" stroke-dasharray="6 3" d="M694 372.7V389.3M662.4 472L675.2 462.5M641.3 492.7L698.7 447.3"/>
<path stroke="#0d0d0d" stroke-width="0.77" d="M722.3 226V253.3M722.3 259.3V279.3M722.3 283.3V310M722.3 322.7V343.3M722.3 352.7V373.3M722.3 382.7V422M722.3 392V399.3M722.3 408V420M722.3 424.7V436M722.3 442V457M722.3 468.7V507"/>
<path stroke="#0d0d0d" stroke-width="0.71" stroke-dasharray="5 3" d="M717.3 343.3L761.3 388.7"/>
<path stroke="#4a4a4a" stroke-width="0.51" stroke-dasharray="3 2" d="M779.7 246V266"/>
<path stroke="#3a3a3a" stroke-width="0.51" stroke-dasharray="2 2" d="M782.3 302.7V336"/>
<path stroke="#0d0d0d" stroke-width="0.71" stroke-dasharray="3 1.5" d="M801.3 335.3V347.3M689.7 452.3L700.1 439.6"/>
<path stroke="#3a3a3a" stroke-width="0.82" stroke-dasharray="5 1 1 1" d="M56.7 378.7V405.3"/>
<path stroke="#0d0d0d" stroke-width="1.43" stroke-dasharray="6 0.6 1.2 0.6" d="M56.7 402V514"/>
<path stroke="#0d0d0d" stroke-width="0.92" stroke-dasharray="8 2 2 2" d="M109 442V513.7"/>
<path stroke="#777" stroke-width="0.71" d="M90 507H106.7"/>
<path stroke="#161616" stroke-width="0.82" stroke-dasharray="11 4 14 5 8 3" d="M108.3 507H334"/>
<path stroke="#0d0d0d" stroke-width="0.82" stroke-dasharray="12 2 3 2" d="M108.3 444.3H334M334 444.3H570.7"/>
<path stroke="#0d0d0d" stroke-width="1.12" stroke-dasharray="5 1" d="M221 407V424"/>
<path stroke="#0d0d0d" stroke-width="0.82" stroke-dasharray="2.2 1.4" d="M236 459.7H252M290 459.7H308.7M340.7 459.7H358M396.7 459.7H413.3M447.3 459.7H468M500.7 459.7H508.7"/>
<path stroke="#3a3a3a" stroke-width="0.71" d="M183.3 492H202.7"/>
<path stroke="#4a4a4a" stroke-width="0.61" d="M298.3 491.3H320.7"/>
<path stroke="#161616" stroke-width="0.82" stroke-dasharray="10 3.5" d="M331.7 422V441.3M554.7 392V422.7"/>
<path stroke="#0d0d0d" stroke-width="0.61" stroke-dasharray="1.2 1.3" d="M359.3 422.7L357.7 434.7"/>
<path stroke="#161616" stroke-width="1.2" d="M424.7 458.4L426.2 458.3M434.5 458.6L435.9 458.5M682.3 423.5L683.9 423.6"/>
<path stroke="#161616" stroke-width="1.19" d="M433 458.5L434.2 458.2"/>
<path stroke="#0d0d0d" stroke-width="0.71" stroke-dasharray="1.5 1" d="M507.3 458.7L524 458.7L524 477.3L507.3 477.3Z"/>
<path stroke="#161616" stroke-width="0.82" stroke-dasharray="14 5 9 4" d="M334 506.3H507.3M588 506.3H634.7"/>
<path stroke="#161616" stroke-width="0.61" stroke-dasharray="1.5 1.5" d="M685.7 377.3Q674.8 397.3 663.9 411.9"/>
<path stroke="#0d0d0d" stroke-width="0.71" stroke-dasharray="4 1.5 1 1.5" d="M585.5 443.2L676.6 389.1"/>
<path stroke="#0d0d0d" stroke-width="0.51" stroke-dasharray="2 1" d="M603.8 430.1L611.4 424.6"/>
<path stroke="#0d0d0d" stroke-width="0.61" stroke-dasharray="3 1.5" d="M656.6 421L666.6 429.2"/>
<path stroke="#161616" stroke-width="1.51" d="M669.7 423.7L670.5 423.4"/>
<path stroke="#161616" stroke-width="1.46" d="M672.9 423.4L674.3 423.5"/>
<path stroke="#161616" stroke-width="1.5" d="M674.8 423.5L677.1 423.4"/>
<path stroke="#161616" stroke-width="1.4" d="M680.3 423.5L681.6 423.6"/>
<path stroke="#161616" stroke-width="1.47" d="M687.7 423.6L688.9 423.5"/>
<path stroke="#0d0d0d" stroke-width="0.51" stroke-dasharray="1.5 1.5" d="M618.3 442.9L627.4 450.1"/>
<path stroke="#0d0d0d" stroke-width="0.61" stroke-dasharray="2 1.2" d="M589.2 443.8L594.6 440.1"/>
<path stroke="#0d0d0d" stroke-width="0.71" stroke-dasharray="2 1.5" d="M607.4 474.7H620.1"/>
<path stroke="#445" stroke-width="0.92" d="M817.3 392V520.3"/>
<path stroke="#334" stroke-width="1.53" d="M817.3 423.7V444"/>
<path stroke="#334" stroke-width="1.33" d="M817.3 479.3V505.3"/>
<path stroke="#0d0d0d" stroke-width="0.82" stroke-dasharray="8 3" d="M661.3 505.3H724.7"/>
<path stroke="#0d0d0d" stroke-width="0.71" stroke-dasharray="4 2 10 3" d="M694 509.3H724.7"/>
<path stroke="#0d0d0d" stroke-width="1.12" stroke-dasharray="10 2 3 2" d="M723 465.3V516"/>
<text x="189.0" y="51.3" font-family="Liberation Serif" font-size="3.96" font-weight="normal" fill="#333" text-anchor="middle" stroke="#333" stroke-width="0.24" transform="rotate(0.08 189.0 51.3)">36'0"</text>
<text x="167.3" y="62.3" font-family="Liberation Serif" font-size="3.52" font-weight="normal" fill="#333" text-anchor="middle" stroke="#333" stroke-width="0.24" transform="rotate(0.08 167.3 62.3)">15'-0"</text>
<text x="239.0" y="62.0" font-family="Liberation Serif" font-size="3.52" font-weight="normal" fill="#333" text-anchor="middle" stroke="#333" stroke-width="0.24" transform="rotate(0.08 239.0 62.0)">3'-0"</text>
<text x="259.0" y="62.0" font-family="Liberation Serif" font-size="3.52" font-weight="normal" fill="#333" text-anchor="middle" stroke="#333" stroke-width="0.24" transform="rotate(0.08 259.0 62.0)">5'-0"</text>
<text x="77.7" y="173.3" font-family="Liberation Serif" font-size="3.74" font-weight="normal" fill="#333" text-anchor="middle" stroke="#333" stroke-width="0.24" transform="rotate(0.08 77.7 173.3)">36</text>
<text x="239.3" y="89.0" font-family="Liberation Serif" font-size="3.3" font-weight="normal" fill="#333" text-anchor="middle" stroke="#333" stroke-width="0.24" transform="rotate(0.08 239.3 89.0)">C/S</text>
<text x="187.3" y="78.0" font-family="Liberation Serif" font-size="3.52" font-weight="normal" fill="#333" text-anchor="middle" stroke="#333" stroke-width="0.24" textLength="29.3" lengthAdjust="spacingAndGlyphs" transform="rotate(0.08 187.3 78.0)">FLOOR DRAIN</text>
<text x="283.7" y="140.0" font-family="Liberation Serif" font-size="3.3" font-weight="normal" fill="#333" text-anchor="middle" stroke="#333" stroke-width="0.24" transform="rotate(-90 283.7 140.0)">14'-10"</text>
<text x="299.3" y="104.7" font-family="Liberation Serif" font-size="3.52" font-weight="normal" fill="#333" text-anchor="middle" stroke="#333" stroke-width="0.24" transform="rotate(0.08 299.3 104.7)">7'-3"</text>
<text x="244.0" y="134.7" font-family="Liberation Serif" font-size="3.3" font-weight="normal" fill="#333" text-anchor="middle" stroke="#333" stroke-width="0.24" transform="rotate(0.08 244.0 134.7)">4'-0"</text>
<text x="196.0" y="123.3" font-family="Liberation Serif" font-size="3.08" font-weight="normal" fill="#333" text-anchor="middle" stroke="#333" stroke-width="0.24" transform="rotate(-90 196.0 123.3)">6'-0"</text>
<text x="206.7" y="117.3" font-family="Liberation Serif" font-size="2.86" font-weight="normal" fill="#333" text-anchor="middle" stroke="#333" stroke-width="0.24" transform="rotate(0.08 206.7 117.3)">2</text>
<text x="234.7" y="154.7" font-family="Liberation Serif" font-size="3.3" font-weight="normal" fill="#333" text-anchor="middle" stroke="#333" stroke-width="0.24" transform="rotate(0.08 234.7 154.7)">(7)</text>
<text x="235.7" y="160.0" font-family="Liberation Serif" font-size="4.4" font-weight="bold" fill="#333" text-anchor="middle" stroke="#333" stroke-width="0.3" textLength="24.7" lengthAdjust="spacingAndGlyphs" transform="rotate(0.08 235.7 160.0)">RESTRM.</text>
<text x="213.3" y="160.0" font-family="Liberation Serif" font-size="3.08" font-weight="normal" fill="#333" text-anchor="middle" stroke="#333" stroke-width="0.24" transform="rotate(0.08 213.3 160.0)">3'-</text>
<text x="196.7" y="171.7" font-family="Liberation Serif" font-size="3.08" font-weight="normal" fill="#333" text-anchor="middle" stroke="#333" stroke-width="0.24" transform="rotate(-90 196.7 171.7)">6'-8"</text>
<text x="165.3" y="168.2" font-family="Liberation Serif" font-size="2.86" font-weight="normal" fill="#333" text-anchor="middle" stroke="#333" stroke-width="0.24" transform="rotate(0.08 165.3 168.2)">1</text>
<text x="165.0" y="176.0" font-family="Liberation Serif" font-size="4.62" font-weight="normal" fill="#333" text-anchor="middle" stroke="#333" stroke-width="0.24" textLength="26.7" lengthAdjust="spacingAndGlyphs" transform="rotate(0.08 165.0 176.0)">STORAGE</text>
<text x="286.0" y="202.7" font-family="Liberation Serif" font-size="3.74" font-weight="normal" fill="#333" text-anchor="middle" stroke="#333" stroke-width="0.24" transform="rotate(0.08 286.0 202.7)">3'5"</text>
<text x="305.0" y="211.0" font-family="Liberation Serif" font-size="4.84" font-weight="normal" fill="#333" text-anchor="middle" stroke="#333" stroke-width="0.24" textLength="29.3" lengthAdjust="spacingAndGlyphs" transform="rotate(0.08 305.0 211.0)">HALLWAY</text>
<text x="196.0" y="213.3" font-family="Liberation Serif" font-size="3.08" font-weight="normal" fill="#333" text-anchor="middle" stroke="#333" stroke-width="0.24" transform="rotate(-90 196.0 213.3)">3'-5"</text>
<text x="249.3" y="220.7" font-family="Liberation Serif" font-size="3.3" font-weight="normal" fill="#333" text-anchor="middle" stroke="#333" stroke-width="0.24" transform="rotate(0.08 249.3 220.7)">C/S</text>
<text x="312.7" y="152.4" transform="rotate(0.08 312.7 152.4)" font-family="Liberation Sans" font-size="3.5" font-weight="bold" fill="#222" stroke="#222" stroke-width="0.22" textLength="35.5" lengthAdjust="spacingAndGlyphs">FIELD TO PLANS C</text>
<text x="312.7" y="155.9" transform="rotate(0.08 312.7 155.9)" font-family="Liberation Sans" font-size="3.5" font-weight="bold" fill="#222" stroke="#222" stroke-width="0.22" textLength="45.0" lengthAdjust="spacingAndGlyphs">TENANT CONDITIONS PL</text>
<text x="312.7" y="159.5" transform="rotate(0.08 312.7 159.5)" font-family="Liberation Sans" font-size="3.5" font-weight="bold" fill="#222" stroke="#222" stroke-width="0.22" textLength="47.3" lengthAdjust="spacingAndGlyphs">PER WALLS NOTES EXIST</text>
<text x="312.7" y="163.0" transform="rotate(0.08 312.7 163.0)" font-family="Liberation Sans" font-size="3.5" font-weight="bold" fill="#222" stroke="#222" stroke-width="0.22" textLength="45.9" lengthAdjust="spacingAndGlyphs">TO ALL SLOPE PER DOOR</text>
<text x="312.7" y="166.6" transform="rotate(0.08 312.7 166.6)" font-family="Liberation Sans" font-size="3.5" font-weight="bold" fill="#222" stroke="#222" stroke-width="0.22" textLength="43.5" lengthAdjust="spacingAndGlyphs">PROVIDE PRIOR TENANT</text>
<text x="312.7" y="170.1" transform="rotate(0.08 312.7 170.1)" font-family="Liberation Sans" font-size="3.5" font-weight="bold" fill="#222" stroke="#222" stroke-width="0.22" textLength="33.1" lengthAdjust="spacingAndGlyphs">TO FIELD NOT SL</text>
<text x="399.0" y="42.7" font-family="Liberation Serif" font-size="3.3" font-weight="normal" fill="#333" text-anchor="middle" stroke="#333" stroke-width="0.24" transform="rotate(0.08 399.0 42.7)">35'</text>
<text x="348.0" y="79.7" font-family="Liberation Serif" font-size="3.3" font-weight="normal" fill="#333" text-anchor="middle" stroke="#333" stroke-width="0.24" transform="rotate(0.08 348.0 79.7)">11'-3"</text>
<text x="348.0" y="104.7" font-family="Liberation Serif" font-size="3.3" font-weight="normal" fill="#333" text-anchor="middle" stroke="#333" stroke-width="0.24" transform="rotate(0.08 348.0 104.7)">3'-1"</text>
<text x="441.3" y="105.0" font-family="Liberation Serif" font-size="3.52" font-weight="normal" fill="#333" text-anchor="middle" stroke="#333" stroke-width="0.24" transform="rotate(0.08 441.3 105.0)">7'-0"</text>
<text x="412.7" y="136.0" font-family="Liberation Serif" font-size="3.08" font-weight="normal" fill="#333" text-anchor="middle" stroke="#333" stroke-width="0.24" transform="rotate(0.08 412.7 136.0)">3'</text>
<text x="426.7" y="146.7" font-family="Liberation Serif" font-size="3.08" font-weight="normal" fill="#333" text-anchor="middle" stroke="#333" stroke-width="0.24" transform="rotate(0.08 426.7 146.7)">3'</text>
<text x="438.0" y="150.8" transform="rotate(0.08 438.0 150.8)" font-family="Liberation Sans" font-size="3.5" font-weight="bold" fill="#222" stroke="#222" stroke-width="0.22" textLength="32.6" lengthAdjust="spacingAndGlyphs">PER IN ALL HARD</text>
<text x="438.0" y="154.2" transform="rotate(0.08 438.0 154.2)" font-family="Liberation Sans" font-size="3.5" font-weight="bold" fill="#222" stroke="#222" stroke-width="0.22" textLength="45.3" lengthAdjust="spacingAndGlyphs">NOT PLANS FINISHED C</text>
<text x="438.0" y="157.5" transform="rotate(0.08 438.0 157.5)" font-family="Liberation Sans" font-size="3.5" font-weight="bold" fill="#222" stroke="#222" stroke-width="0.22" textLength="44.4" lengthAdjust="spacingAndGlyphs">TO CONDITIONS PRIOR</text>
<text x="438.0" y="160.8" transform="rotate(0.08 438.0 160.8)" font-family="Liberation Sans" font-size="3.5" font-weight="bold" fill="#222" stroke="#222" stroke-width="0.22" textLength="27.2" lengthAdjust="spacingAndGlyphs">SPACE CONTRA</text>
<text x="550.7" y="174.7" font-family="Liberation Serif" font-size="3.3" font-weight="normal" fill="#333" text-anchor="middle" stroke="#333" stroke-width="0.24" transform="rotate(0.08 550.7 174.7)">7'-0"</text>
<text x="602.7" y="186.7" font-family="Liberation Serif" font-size="3.52" font-weight="normal" fill="#333" text-anchor="middle" stroke="#333" stroke-width="0.24" textLength="27.3" lengthAdjust="spacingAndGlyphs" transform="rotate(0.08 602.7 186.7)">POWER CLIP</text>
<text x="618.3" y="194.0" font-family="Liberation Serif" font-size="3.52" font-weight="normal" fill="#333" text-anchor="middle" stroke="#333" stroke-width="0.24" textLength="15.3" lengthAdjust="spacingAndGlyphs" transform="rotate(0.08 618.3 194.0)">SPRAY</text>
<text x="406.7" y="219.7" font-family="Liberation Serif" font-size="4.84" font-weight="normal" fill="#333" text-anchor="middle" stroke="#333" stroke-width="0.24" textLength="29.3" lengthAdjust="spacingAndGlyphs" transform="rotate(0.08 406.7 219.7)">HALLWAY</text>
<text x="490.0" y="219.7" font-family="Liberation Serif" font-size="4.84" font-weight="normal" fill="#333" text-anchor="middle" stroke="#333" stroke-width="0.24" textLength="29.3" lengthAdjust="spacingAndGlyphs" transform="rotate(0.08 490.0 219.7)">HALLWAY</text>
<text x="366.7" y="219.0" font-family="Liberation Serif" font-size="3.74" font-weight="normal" fill="#333" text-anchor="middle" stroke="#333" stroke-width="0.24" transform="rotate(0.08 366.7 219.0)">7'3</text>
<text x="446.7" y="218.0" font-family="Liberation Serif" font-size="3.3" font-weight="normal" fill="#333" text-anchor="middle" stroke="#333" stroke-width="0.24" transform="rotate(0.08 446.7 218.0)">C/S</text>
<text x="732.0" y="164.0" font-family="Liberation Serif" font-size="3.3" font-weight="normal" fill="#333" text-anchor="middle" stroke="#333" stroke-width="0.24" transform="rotate(0.08 732.0 164.0)">'</text>
<rect x="766.3" y="127.3" width="52.3" height="52.7" rx="5" ry="5" stroke="#222" stroke-width="1.1" fill="none" stroke-dasharray="5 0.8 2 0.6"/>
<path d="M783.0 140.0A18.3 18.3 0 0 0 780.7 169.3" stroke="#161616" stroke-width="2.6" fill="none"/>
<path d="M780.7 169.3A18.3 18.3 0 0 0 801.3 172.7" stroke="#222" stroke-width="1.8" fill="none"/>
<text x="804.0" y="215.7" font-family="Liberation Serif" font-size="3.96" font-weight="bold" fill="#333" text-anchor="middle" stroke="#333" stroke-width="0.3" textLength="34.7" lengthAdjust="spacingAndGlyphs" transform="rotate(0.08 804.0 215.7)">APN: 576-220-04</text>
<text x="804.0" y="223.7" font-family="Liberation Serif" font-size="3.52" font-weight="normal" fill="#333" text-anchor="middle" stroke="#333" stroke-width="0.24" textLength="32.0" lengthAdjust="spacingAndGlyphs" transform="rotate(0.08 804.0 223.7)">03374_80MA3</text>
<text x="744.7" y="221.7" font-family="Liberation Serif" font-size="3.08" font-weight="normal" fill="#333" text-anchor="middle" stroke="#333" stroke-width="0.24" transform="rotate(-90 744.7 221.7)">10'</text>
<text x="650.0" y="184.0" font-family="Liberation Serif" font-size="3.3" font-weight="normal" fill="#333" text-anchor="middle" stroke="#333" stroke-width="0.24" transform="rotate(0.08 650.0 184.0)">(20)</text>
<text x="650.7" y="188.7" font-family="Liberation Serif" font-size="4.18" font-weight="normal" fill="#333" text-anchor="middle" stroke="#333" stroke-width="0.24" textLength="41.3" lengthAdjust="spacingAndGlyphs" transform="rotate(0.08 650.7 188.7)">ACCESSIBILITY</text>
<text x="649.0" y="193.3" font-family="Liberation Serif" font-size="3.74" font-weight="bold" fill="#333" text-anchor="middle" stroke="#333" stroke-width="0.3" textLength="24.7" lengthAdjust="spacingAndGlyphs" transform="rotate(0.08 649.0 193.3)">PARKING</text>
<text x="664.0" y="220.7" font-family="Liberation Serif" font-size="3.3" font-weight="normal" fill="#333" text-anchor="middle" stroke="#333" stroke-width="0.24" transform="rotate(0.08 664.0 220.7)">(14)</text>
<text x="664.7" y="225.7" font-family="Liberation Serif" font-size="4.18" font-weight="normal" fill="#333" text-anchor="middle" stroke="#333" stroke-width="0.24" textLength="19.3" lengthAdjust="spacingAndGlyphs" transform="rotate(0.08 664.7 225.7)">OFFICE</text>
<text x="610.7" y="185.7" font-family="Liberation Serif" font-size="3.3" font-weight="normal" fill="#333" text-anchor="middle" stroke="#333" stroke-width="0.24" transform="rotate(0.08 610.7 185.7)"></text>
<text x="618.0" y="194.0" font-family="Liberation Serif" font-size="3.3" font-weight="normal" fill="#333" text-anchor="middle" stroke="#333" stroke-width="0.24" transform="rotate(0.08 618.0 194.0)"></text>
<text x="65.3" y="268.7" font-family="Liberation Serif" font-size="3.08" font-weight="normal" fill="#333" text-anchor="middle" stroke="#333" stroke-width="0.24" transform="rotate(-90 65.3 268.7)">10'-0"</text>
<text x="77.7" y="352.0" font-family="Liberation Serif" font-size="3.08" font-weight="normal" fill="#333" text-anchor="middle" stroke="#333" stroke-width="0.24" transform="rotate(-90 77.7 352.0)">36'</text>
<text x="105.3" y="329.3" font-family="Liberation Serif" font-size="3.3" font-weight="bold" fill="#333" text-anchor="middle" stroke="#333" stroke-width="0.3" textLength="85.0" lengthAdjust="spacingAndGlyphs" transform="rotate(-90 105.3 329.3)">ACTUAL CEILING HEIGHT TO BE VERIFIED</text>
<text x="117.3" y="333.3" font-family="Liberation Serif" font-size="3.3" font-weight="bold" fill="#333" text-anchor="middle" stroke="#333" stroke-width="0.3" textLength="75.0" lengthAdjust="spacingAndGlyphs" transform="rotate(-90 117.3 333.3)">FIELD VERIFY ALL DIMENSIONS</text>
<text x="237.7" y="253.3" font-family="Liberation Serif" font-size="3.3" font-weight="normal" fill="#333" text-anchor="middle" stroke="#333" stroke-width="0.24" transform="rotate(0.08 237.7 253.3)">(7A)</text>
<text x="238.0" y="259.7" font-family="Liberation Serif" font-size="4.4" font-weight="bold" fill="#333" text-anchor="middle" stroke="#333" stroke-width="0.3" textLength="24.0" lengthAdjust="spacingAndGlyphs" transform="rotate(0.08 238.0 259.7)">RESTRM.</text>
<text x="244.0" y="296.0" font-family="Liberation Serif" font-size="3.08" font-weight="normal" fill="#333" text-anchor="middle" stroke="#333" stroke-width="0.24" transform="rotate(0.08 244.0 296.0)">10'</text>
<text x="277.7" y="319.0" font-family="Liberation Serif" font-size="3.3" font-weight="normal" fill="#333" text-anchor="middle" stroke="#333" stroke-width="0.24" transform="rotate(0.08 277.7 319.0)">19'</text>
<text x="166.7" y="319.3" font-family="Liberation Serif" font-size="3.08" font-weight="normal" fill="#333" text-anchor="middle" stroke="#333" stroke-width="0.24" transform="rotate(0.08 166.7 319.3)">34'</text>
<text x="165.7" y="328.8" font-family="Liberation Serif" font-size="2.86" font-weight="normal" fill="#333" text-anchor="middle" stroke="#333" stroke-width="0.24" transform="rotate(0.08 165.7 328.8)">2</text>
<text x="163.7" y="335.7" font-family="Liberation Serif" font-size="6.6" font-weight="normal" fill="#2a2a2a" text-anchor="middle" stroke="#2a2a2a" stroke-width="0.24" textLength="46.0" lengthAdjust="spacingAndGlyphs" transform="rotate(0.08 163.7 335.7)">LEASE SPACE # 1</text>
<text x="165.0" y="341.3" font-family="Liberation Serif" font-size="5.28" font-weight="normal" fill="#3a3a3a" text-anchor="middle" stroke="#3a3a3a" stroke-width="0.24" textLength="30.0" lengthAdjust="spacingAndGlyphs" transform="rotate(0.08 165.0 341.3)">1,054 SQ. FT</text>
<text x="278.3" y="328.8" font-family="Liberation Serif" font-size="2.86" font-weight="normal" fill="#333" text-anchor="middle" stroke="#333" stroke-width="0.24" transform="rotate(0.08 278.3 328.8)">3</text>
<text x="279.3" y="335.7" font-family="Liberation Serif" font-size="6.6" font-weight="normal" fill="#2a2a2a" text-anchor="middle" stroke="#2a2a2a" stroke-width="0.24" textLength="48.3" lengthAdjust="spacingAndGlyphs" transform="rotate(0.08 279.3 335.7)">LEASE SPACE # 2</text>
<text x="278.3" y="341.3" font-family="Liberation Serif" font-size="5.28" font-weight="normal" fill="#3a3a3a" text-anchor="middle" stroke="#3a3a3a" stroke-width="0.24" textLength="24.0" lengthAdjust="spacingAndGlyphs" transform="rotate(0.08 278.3 341.3)">795 SQ. FT.</text>
<text x="444.7" y="260.0" font-family="Liberation Serif" font-size="3.3" font-weight="normal" fill="#333" text-anchor="middle" stroke="#333" stroke-width="0.24" transform="rotate(0.08 444.7 260.0)">(7B)</text>
<text x="444.7" y="266.0" font-family="Liberation Serif" font-size="4.18" font-weight="bold" fill="#333" text-anchor="middle" stroke="#333" stroke-width="0.3" textLength="21.3" lengthAdjust="spacingAndGlyphs" transform="rotate(0.08 444.7 266.0)">RESTRM.</text>
<text x="480.7" y="260.0" font-family="Liberation Serif" font-size="3.3" font-weight="normal" fill="#333" text-anchor="middle" stroke="#333" stroke-width="0.24" transform="rotate(0.08 480.7 260.0)">(7C)</text>
<text x="480.7" y="266.0" font-family="Liberation Serif" font-size="4.18" font-weight="bold" fill="#333" text-anchor="middle" stroke="#333" stroke-width="0.3" textLength="21.3" lengthAdjust="spacingAndGlyphs" transform="rotate(0.08 480.7 266.0)">RESTRM.</text>
<text x="497.3" y="282.7" font-family="Liberation Serif" font-size="3.08" font-weight="normal" fill="#333" text-anchor="middle" stroke="#333" stroke-width="0.24" transform="rotate(0.08 497.3 282.7)">(8)</text>
<text x="440.0" y="294.0" font-family="Liberation Serif" font-size="2.86" font-weight="normal" fill="#333" text-anchor="middle" stroke="#333" stroke-width="0.24" transform="rotate(0.08 440.0 294.0)">4'</text>
<text x="609.3" y="233.3" font-family="Liberation Serif" font-size="4.18" font-weight="bold" fill="#333" text-anchor="middle" stroke="#333" stroke-width="0.3" textLength="22.7" lengthAdjust="spacingAndGlyphs" transform="rotate(0.08 609.3 233.3)">RESTRM.</text>
<text x="386.3" y="318.0" font-family="Liberation Serif" font-size="3.3" font-weight="normal" fill="#333" text-anchor="middle" stroke="#333" stroke-width="0.24" transform="rotate(0.08 386.3 318.0)">19'</text>
<text x="498.0" y="318.0" font-family="Liberation Serif" font-size="3.3" font-weight="normal" fill="#333" text-anchor="middle" stroke="#333" stroke-width="0.24" transform="rotate(0.08 498.0 318.0)">19'</text>
<text x="620.0" y="317.3" font-family="Liberation Serif" font-size="3.3" font-weight="normal" fill="#333" text-anchor="middle" stroke="#333" stroke-width="0.24" transform="rotate(0.08 620.0 317.3)">20'-6"</text>
<text x="386.3" y="328.8" font-family="Liberation Serif" font-size="2.86" font-weight="normal" fill="#333" text-anchor="middle" stroke="#333" stroke-width="0.24" transform="rotate(0.08 386.3 328.8)">4</text>
<text x="387.7" y="335.7" font-family="Liberation Serif" font-size="6.6" font-weight="normal" fill="#2a2a2a" text-anchor="middle" stroke="#2a2a2a" stroke-width="0.24" textLength="47.3" lengthAdjust="spacingAndGlyphs" transform="rotate(0.08 387.7 335.7)">LEASE SPACE # 3</text>
<text x="388.0" y="341.3" font-family="Liberation Serif" font-size="5.28" font-weight="normal" fill="#3a3a3a" text-anchor="middle" stroke="#3a3a3a" stroke-width="0.24" textLength="25.3" lengthAdjust="spacingAndGlyphs" transform="rotate(0.08 388.0 341.3)">795 SQ. FT.</text>
<text x="385.7" y="355.7" font-family="Liberation Serif" font-size="3.74" font-weight="normal" fill="#333" text-anchor="middle" stroke="#333" stroke-width="0.24" textLength="23.3" lengthAdjust="spacingAndGlyphs" transform="rotate(0.08 385.7 355.7)">F.F.E. -1.00</text>
<text x="497.3" y="328.8" font-family="Liberation Serif" font-size="2.86" font-weight="normal" fill="#333" text-anchor="middle" stroke="#333" stroke-width="0.24" transform="rotate(0.08 497.3 328.8)">5</text>
<text x="499.0" y="335.7" font-family="Liberation Serif" font-size="6.6" font-weight="normal" fill="#2a2a2a" text-anchor="middle" stroke="#2a2a2a" stroke-width="0.24" textLength="46.7" lengthAdjust="spacingAndGlyphs" transform="rotate(0.08 499.0 335.7)">LEASE SPACE # 4</text>
<text x="498.0" y="341.3" font-family="Liberation Serif" font-size="5.28" font-weight="normal" fill="#3a3a3a" text-anchor="middle" stroke="#3a3a3a" stroke-width="0.24" textLength="22.0" lengthAdjust="spacingAndGlyphs" transform="rotate(0.08 498.0 341.3)">697 SQ. FT.</text>
<text x="614.0" y="327.5" font-family="Liberation Serif" font-size="2.86" font-weight="normal" fill="#333" text-anchor="middle" stroke="#333" stroke-width="0.24" transform="rotate(0.08 614.0 327.5)">6</text>
<text x="614.0" y="335.0" font-family="Liberation Serif" font-size="6.6" font-weight="normal" fill="#2a2a2a" text-anchor="middle" stroke="#2a2a2a" stroke-width="0.24" textLength="48.0" lengthAdjust="spacingAndGlyphs" transform="rotate(0.08 614.0 335.0)">LEASE SPACE # 5</text>
<text x="613.3" y="341.3" font-family="Liberation Serif" font-size="5.28" font-weight="normal" fill="#3a3a3a" text-anchor="middle" stroke="#3a3a3a" stroke-width="0.24" textLength="28.0" lengthAdjust="spacingAndGlyphs" transform="rotate(0.08 613.3 341.3)">748.4 SQ. FT</text>
<text x="369.3" y="379.7" transform="rotate(0.08 369.3 379.7)" font-family="Liberation Sans" font-size="3.5" font-weight="bold" fill="#222" stroke="#222" stroke-width="0.22" textLength="54.9" lengthAdjust="spacingAndGlyphs">LEASE WITH RATED DOOR ALL</text>
<text x="369.3" y="383.4" transform="rotate(0.08 369.3 383.4)" font-family="Liberation Sans" font-size="3.5" font-weight="bold" fill="#222" stroke="#222" stroke-width="0.22" textLength="54.2" lengthAdjust="spacingAndGlyphs">CONDITIONS DETAIL CONTRA</text>
<text x="369.3" y="387.0" transform="rotate(0.08 369.3 387.0)" font-family="Liberation Sans" font-size="3.5" font-weight="bold" fill="#222" stroke="#222" stroke-width="0.22" textLength="49.0" lengthAdjust="spacingAndGlyphs">MAX TO SLOPE GLAZING O</text>
<text x="369.3" y="390.6" transform="rotate(0.08 369.3 390.6)" font-family="Liberation Sans" font-size="3.5" font-weight="bold" fill="#222" stroke="#222" stroke-width="0.22" textLength="63.4" lengthAdjust="spacingAndGlyphs">ALL IMPROVEMENT SHEET DOOR WI</text>
<text x="369.3" y="394.2" transform="rotate(0.08 369.3 394.2)" font-family="Liberation Sans" font-size="3.5" font-weight="bold" fill="#222" stroke="#222" stroke-width="0.22" textLength="65.3" lengthAdjust="spacingAndGlyphs">OWNER ACCESSIBLE BE RATED SEE</text>
<text x="369.3" y="397.8" transform="rotate(0.08 369.3 397.8)" font-family="Liberation Sans" font-size="3.5" font-weight="bold" fill="#222" stroke="#222" stroke-width="0.22" textLength="56.2" lengthAdjust="spacingAndGlyphs">NOTES FIELD HARDWARE PER</text>
<text x="369.3" y="401.5" transform="rotate(0.08 369.3 401.5)" font-family="Liberation Sans" font-size="3.5" font-weight="bold" fill="#222" stroke="#222" stroke-width="0.22" textLength="48.3" lengthAdjust="spacingAndGlyphs">FIRE TENANT PER OWNER</text>
<text x="710.3" y="261.3" font-family="Liberation Serif" font-size="3.08" font-weight="normal" fill="#333" text-anchor="middle" stroke="#333" stroke-width="0.24" transform="rotate(0.08 710.3 261.3)">C.I.P.</text>
<text x="710.3" y="264.7" font-family="Liberation Serif" font-size="3.08" font-weight="normal" fill="#333" text-anchor="middle" stroke="#333" stroke-width="0.24" transform="rotate(0.08 710.3 264.7)">CURB</text>
<text x="683.3" y="340.7" font-family="Liberation Serif" font-size="2.86" font-weight="normal" fill="#333" text-anchor="middle" stroke="#333" stroke-width="0.24" transform="rotate(0.08 683.3 340.7)">(6A)</text>
<text x="748.7" y="314.7" font-family="Liberation Serif" font-size="3.08" font-weight="normal" fill="#333" text-anchor="middle" stroke="#333" stroke-width="0.24" transform="rotate(-90 748.7 314.7)">2'-4"</text>
<text x="738.0" y="272.7" font-family="Liberation Serif" font-size="3.08" font-weight="normal" fill="#333" text-anchor="middle" stroke="#333" stroke-width="0.24" transform="rotate(-90 738.0 272.7)">25'-0"</text>
<text x="776.7" y="297.7" font-family="Liberation Serif" font-size="2.86" font-weight="bold" fill="#333" text-anchor="middle" stroke="#333" stroke-width="0.3" textLength="43.3" lengthAdjust="spacingAndGlyphs" transform="rotate(-90 776.7 297.7)">EXISTING CURB LINE</text>
<text x="803.7" y="289.3" font-family="Liberation Serif" font-size="8.36" font-weight="normal" fill="#222" text-anchor="middle" stroke="#222" stroke-width="0.24" textLength="70.7" lengthAdjust="spacingAndGlyphs" transform="rotate(-90 803.7 289.3)">SERRANO  AVE.</text>
<text x="753.0" y="332.3" font-family="Liberation Serif" font-size="3.08" font-weight="bold" fill="#333" text-anchor="middle" stroke="#333" stroke-width="0.3" textLength="33.3" lengthAdjust="spacingAndGlyphs" transform="rotate(0.08 753.0 332.3)">EXISTING LANDSCAPE</text>
<text x="746.3" y="335.0" font-family="Liberation Serif" font-size="2.86" font-weight="bold" fill="#333" text-anchor="middle" stroke="#333" stroke-width="0.3" textLength="20.0" lengthAdjust="spacingAndGlyphs" transform="rotate(0.08 746.3 335.0)">AREA TO REMAIN</text>
<text x="805.3" y="383.3" font-family="Liberation Serif" font-size="3.08" font-weight="bold" fill="#333" text-anchor="middle" stroke="#333" stroke-width="0.3" textLength="28.0" lengthAdjust="spacingAndGlyphs" transform="rotate(0.08 805.3 383.3)">ADDITIONAL</text>
<text x="801.3" y="386.3" font-family="Liberation Serif" font-size="3.08" font-weight="bold" fill="#333" text-anchor="middle" stroke="#333" stroke-width="0.3" textLength="20.0" lengthAdjust="spacingAndGlyphs" transform="rotate(0.08 801.3 386.3)">PATIO AREA</text>
<text x="66.0" y="476.7" font-family="Liberation Serif" font-size="3.08" font-weight="normal" fill="#333" text-anchor="middle" stroke="#333" stroke-width="0.24" transform="rotate(-90 66.0 476.7)">16'</text>
<text x="82.0" y="445.3" font-family="Liberation Serif" font-size="3.08" font-weight="normal" fill="#333" text-anchor="middle" stroke="#333" stroke-width="0.24" transform="rotate(-90 82.0 445.3)">4'</text>
<text x="146.0" y="448.0" font-family="Liberation Serif" font-size="2.86" font-weight="normal" fill="#333" text-anchor="middle" stroke="#333" stroke-width="0.24" transform="rotate(0.08 146.0 448.0)">10'-0"</text>
<text x="145.0" y="431.3" font-family="Liberation Serif" font-size="3.08" font-weight="normal" fill="#333" text-anchor="middle" stroke="#333" stroke-width="0.24" transform="rotate(0.08 145.0 431.3)">3070</text>
<text x="180.0" y="435.3" font-family="Liberation Serif" font-size="2.86" font-weight="normal" fill="#333" text-anchor="middle" stroke="#333" stroke-width="0.24" transform="rotate(0.08 180.0 435.3)">(44)</text>
<path d="M201.7 422.7A21.0 20.0 0 0 1 244.0 422.7" stroke="#333" stroke-width="0.7" fill="none" stroke-dasharray="1.8 1.2"/>
<text x="210.7" y="430.0" font-family="Liberation Serif" font-size="2.86" font-weight="normal" fill="#333" text-anchor="middle" stroke="#333" stroke-width="0.24" transform="rotate(0.08 210.7 430.0)">A4.1</text>
<text x="265.3" y="434.7" font-family="Liberation Serif" font-size="3.08" font-weight="normal" fill="#333" text-anchor="middle" stroke="#333" stroke-width="0.24" transform="rotate(0.08 265.3 434.7)">5'</text>
<text x="300.7" y="431.3" font-family="Liberation Serif" font-size="3.3" font-weight="bold" fill="#333" text-anchor="middle" stroke="#333" stroke-width="0.3" transform="rotate(0.08 300.7 431.3)">5465</text>
<text x="228.3" y="455.3" font-family="Liberation Serif" font-size="3.08" font-weight="bold" fill="#333" text-anchor="middle" stroke="#333" stroke-width="0.3" textLength="13.3" lengthAdjust="spacingAndGlyphs" transform="rotate(0.08 228.3 455.3)">SEE 1/2"</text>
<text x="226.7" y="458.3" font-family="Liberation Serif" font-size="2.86" font-weight="bold" fill="#333" text-anchor="middle" stroke="#333" stroke-width="0.3" textLength="10.0" lengthAdjust="spacingAndGlyphs" transform="rotate(0.08 226.7 458.3)">SLOPE</text>
<text x="115.3" y="490.3" font-family="Liberation Serif" font-size="3.08" font-weight="normal" fill="#333" text-anchor="middle" stroke="#333" stroke-width="0.24" transform="rotate(0.08 115.3 490.3)">3'</text>
<text x="146.3" y="490.3" font-family="Liberation Serif" font-size="3.08" font-weight="normal" fill="#333" text-anchor="middle" stroke="#333" stroke-width="0.24" transform="rotate(0.08 146.3 490.3)">6'</text>
<text x="178.0" y="490.0" font-family="Liberation Serif" font-size="3.08" font-weight="normal" fill="#333" text-anchor="middle" stroke="#333" stroke-width="0.24" transform="rotate(0.08 178.0 490.0)">7'-0"</text>
<text x="223.0" y="490.3" font-family="Liberation Serif" font-size="3.08" font-weight="normal" fill="#333" text-anchor="middle" stroke="#333" stroke-width="0.24" transform="rotate(0.08 223.0 490.3)">12'</text>
<text x="267.3" y="490.0" font-family="Liberation Serif" font-size="3.08" font-weight="normal" fill="#333" text-anchor="middle" stroke="#333" stroke-width="0.24" transform="rotate(0.08 267.3 490.0)">3'-6</text>
<path d="M422.3 422.7A21.0 20.0 0 0 1 464.7 422.7" stroke="#333" stroke-width="0.7" fill="none" stroke-dasharray="1.8 1.2"/>
<text x="431.7" y="429.0" font-family="Liberation Serif" font-size="2.86" font-weight="normal" fill="#333" text-anchor="middle" stroke="#333" stroke-width="0.24" transform="rotate(0.08 431.7 429.0)">A4.1</text>
<text x="456.7" y="429.0" font-family="Liberation Serif" font-size="2.86" font-weight="normal" fill="#333" text-anchor="middle" stroke="#333" stroke-width="0.24" transform="rotate(0.08 456.7 429.0)">A4.1</text>
<text x="366.0" y="430.7" font-family="Liberation Serif" font-size="3.3" font-weight="bold" fill="#333" text-anchor="middle" stroke="#333" stroke-width="0.3" transform="rotate(0.08 366.0 430.7)">5465</text>
<text x="402.3" y="434.0" font-family="Liberation Serif" font-size="2.86" font-weight="normal" fill="#333" text-anchor="middle" stroke="#333" stroke-width="0.24" transform="rotate(0.08 402.3 434.0)">(44)</text>
<text x="487.3" y="433.3" font-family="Liberation Serif" font-size="2.86" font-weight="normal" fill="#333" text-anchor="middle" stroke="#333" stroke-width="0.24" transform="rotate(0.08 487.3 433.3)">(44)</text>
<text x="521.7" y="430.7" font-family="Liberation Serif" font-size="3.3" font-weight="bold" fill="#333" text-anchor="middle" stroke="#333" stroke-width="0.3" transform="rotate(0.08 521.7 430.7)">5465</text>
<text x="367.3" y="448.7" font-family="Liberation Serif" font-size="2.86" font-weight="normal" fill="#333" text-anchor="middle" stroke="#333" stroke-width="0.24" transform="rotate(0.08 367.3 448.7)">10'</text>
<text x="522.3" y="448.7" font-family="Liberation Serif" font-size="2.86" font-weight="normal" fill="#333" text-anchor="middle" stroke="#333" stroke-width="0.24" transform="rotate(0.08 522.3 448.7)">10'</text>
<text x="489.3" y="489.7" font-family="Liberation Serif" font-size="3.08" font-weight="normal" fill="#333" text-anchor="middle" stroke="#333" stroke-width="0.24" transform="rotate(0.08 489.3 489.7)">8'-6"</text>
<text x="446.0" y="489.3" font-family="Liberation Serif" font-size="3.08" font-weight="normal" fill="#333" text-anchor="middle" stroke="#333" stroke-width="0.24" transform="rotate(0.08 446.0 489.3)">2</text>
<text x="530.7" y="461.9" transform="rotate(0.08 530.7 461.9)" font-family="Liberation Sans" font-size="3.5" font-weight="bold" fill="#222" stroke="#222" stroke-width="0.22" textLength="58.0" lengthAdjust="spacingAndGlyphs">TENANT SEE DETAIL TO PLANS</text>
<text x="530.7" y="467.2" transform="rotate(0.08 530.7 467.2)" font-family="Liberation Sans" font-size="3.5" font-weight="bold" fill="#222" stroke="#222" stroke-width="0.22" textLength="56.8" lengthAdjust="spacingAndGlyphs">IMPROVEMENT FIELD IMPROVEM</text>
<text x="507.3" y="483.2" transform="rotate(0.08 507.3 483.2)" font-family="Liberation Sans" font-size="3.5" font-weight="bold" fill="#222" stroke="#222" stroke-width="0.22" textLength="117.3" lengthAdjust="spacingAndGlyphs">TO LEASE SEE PROVIDE SHEET CONTRACTOR VERIFY EXCEED SE</text>
<text x="507.3" y="487.0" transform="rotate(0.08 507.3 487.0)" font-family="Liberation Sans" font-size="3.5" font-weight="bold" fill="#222" stroke="#222" stroke-width="0.22" textLength="113.8" lengthAdjust="spacingAndGlyphs">TYPICAL WITH DOOR TENANT NOTES FIELD SHEET EXCEED AC</text>
<text x="507.3" y="490.8" transform="rotate(0.08 507.3 490.8)" font-family="Liberation Sans" font-size="3.5" font-weight="bold" fill="#222" stroke="#222" stroke-width="0.22" textLength="105.6" lengthAdjust="spacingAndGlyphs">SHALL DOOR CONDITIONS PER MAX LEASE DETAIL LEASE</text>
<text x="507.3" y="500.1" transform="rotate(0.08 507.3 500.1)" font-family="Liberation Sans" font-size="3.5" font-weight="bold" fill="#222" stroke="#222" stroke-width="0.22" textLength="114.7" lengthAdjust="spacingAndGlyphs">VERIFY HARDWARE BE CONTRACTOR VERIFY CONDITIONS EXCE</text>
<text x="507.3" y="504.1" transform="rotate(0.08 507.3 504.1)" font-family="Liberation Sans" font-size="3.5" font-weight="bold" fill="#222" stroke="#222" stroke-width="0.22" textLength="112.4" lengthAdjust="spacingAndGlyphs">COORDINATE RATED CONDITIONS OWNER NOTES NOTES CONDI</text>
<text x="507.3" y="508.1" transform="rotate(0.08 507.3 508.1)" font-family="Liberation Sans" font-size="3.5" font-weight="bold" fill="#222" stroke="#222" stroke-width="0.22" textLength="97.5" lengthAdjust="spacingAndGlyphs">RATED DOOR FIRE EXCEED DOOR SLOPE FINISHED P</text>
<text x="586.0" y="475.3" font-family="Liberation Serif" font-size="3.3" font-weight="normal" fill="#333" text-anchor="middle" stroke="#333" stroke-width="0.24" transform="rotate(0.08 586.0 475.3)">2</text>
<text x="627.4" y="413.7" font-family="Liberation Serif" font-size="2.86" font-weight="normal" fill="#333" text-anchor="middle" stroke="#333" stroke-width="0.24" transform="rotate(0.08 627.4 413.7)">(9A)</text>
<text x="663.0" y="379.1" font-family="Liberation Serif" font-size="2.86" font-weight="normal" fill="#333" text-anchor="middle" stroke="#333" stroke-width="0.24" transform="rotate(0.08 663.0 379.1)">(9)</text>
<text x="588.3" y="435.2" font-family="Liberation Serif" font-size="2.86" font-weight="normal" fill="#333" text-anchor="middle" stroke="#333" stroke-width="0.24" transform="rotate(0.08 588.3 435.2)">(6)</text>
<text x="612.5" y="428.7" font-family="Liberation Serif" font-size="2.86" font-weight="normal" fill="#333" text-anchor="middle" stroke="#333" stroke-width="0.24" transform="rotate(0.08 612.5 428.7)">(8)</text>
<text x="679.3" y="420.6" font-family="Liberation Serif" font-size="3.3" font-weight="bold" fill="#333" text-anchor="middle" stroke="#333" stroke-width="0.3" textLength="12.8" lengthAdjust="spacingAndGlyphs" transform="rotate(0.08 679.3 420.6)">GLASS</text>
<text x="679.3" y="423.9" font-family="Liberation Serif" font-size="3.3" font-weight="bold" fill="#333" text-anchor="middle" stroke="#333" stroke-width="0.3" textLength="18.2" lengthAdjust="spacingAndGlyphs" transform="rotate(0.08 679.3 423.9)">WINDOW</text>
<text x="678.8" y="440.1" font-family="Liberation Serif" font-size="2.86" font-weight="normal" fill="#333" text-anchor="middle" stroke="#333" stroke-width="0.24" transform="rotate(0.08 678.8 440.1)">7'</text>
<text x="639.8" y="450.1" font-family="Liberation Serif" font-size="3.52" font-weight="normal" fill="#333" text-anchor="middle" stroke="#333" stroke-width="0.24" transform="rotate(0.08 639.8 450.1)">P.L.</text>
<text x="762.7" y="476.0" font-family="Liberation Serif" font-size="3.52" font-weight="bold" fill="#333" text-anchor="middle" stroke="#333" stroke-width="0.3" textLength="52.7" lengthAdjust="spacingAndGlyphs" transform="rotate(-90 762.7 476.0)">EXISTING SIDEWALK</text>
<text x="773.3" y="463.3" font-family="Liberation Serif" font-size="2.86" font-weight="normal" fill="#333" text-anchor="middle" stroke="#333" stroke-width="0.24" transform="rotate(0.08 773.3 463.3)">24"</text>
<text x="803.3" y="453.3" font-family="Liberation Serif" font-size="3.08" font-weight="bold" fill="#333" text-anchor="middle" stroke="#333" stroke-width="0.3" textLength="22.7" lengthAdjust="spacingAndGlyphs" transform="rotate(0.08 803.3 453.3)">ADJACENT</text>
<text x="801.3" y="456.3" font-family="Liberation Serif" font-size="3.08" font-weight="bold" fill="#333" text-anchor="middle" stroke="#333" stroke-width="0.3" textLength="18.7" lengthAdjust="spacingAndGlyphs" transform="rotate(0.08 801.3 456.3)">PROPERTY</text>
<text x="813.0" y="427.0" font-family="Liberation Serif" font-size="3.08" font-weight="bold" fill="#333" text-anchor="middle" stroke="#333" stroke-width="0.3" textLength="16.0" lengthAdjust="spacingAndGlyphs" transform="rotate(-90 813.0 427.0)">20'-0"</text>
<text x="692.0" y="496.3" font-family="Liberation Serif" font-size="3.08" font-weight="normal" fill="#333" text-anchor="middle" stroke="#333" stroke-width="0.24" transform="rotate(0.08 692.0 496.3)">10'</text>
<text x="694.7" y="474.3" font-family="Liberation Serif" font-size="3.52" font-weight="bold" fill="#333" text-anchor="middle" stroke="#333" stroke-width="0.3" textLength="14.7" lengthAdjust="spacingAndGlyphs" transform="rotate(0.08 694.7 474.3)">KEEP</text>
<text x="694.7" y="478.3" font-family="Liberation Serif" font-size="3.52" font-weight="bold" fill="#333" text-anchor="middle" stroke="#333" stroke-width="0.3" textLength="19.3" lengthAdjust="spacingAndGlyphs" transform="rotate(0.08 694.7 478.3)">CLEAR</text>
<path stroke="#555" stroke-width="0.9" stroke-linecap="round" d="M231.4 150.3h0.4M222.5 181.1h0.1M728.8 272.2h0.8M729.5 299.5h0.1M223.3 147.7h0.1M240.3 147.2h0.4M362.4 185.0h0.8M615.2 210.0h0.1M642.8 404.5h0.8M626.4 220.3h0.8M245.6 239.7h0.8M287.8 89.4h0.8M433.4 229.7h0.8M267.1 180.1h0.8M451.0 252.3h0.1M614.0 220.4h0.1M689.1 326.2h0.4M712.8 191.0h0.1M718.0 191.4h0.1M651.6 410.6h0.1M602.3 428.8h0.8M245.0 150.3h0.8M267.7 220.7h0.1M263.1 166.1h0.1M433.9 235.7h0.8M375.1 173.4h0.8M234.6 103.9h0.4M382.7 161.4h0.8M485.2 231.9h0.8M581.7 215.1h0.8M498.3 263.4h0.1M654.5 391.0h0.1M608.0 211.8h0.4M722.5 217.4h0.4M724.7 212.6h0.1M692.8 205.7h0.1M278.4 123.7h0.4M619.0 231.5h0.4M441.6 239.7h0.1M257.0 223.9h0.1M201.5 188.2h0.4M389.1 262.6h0.8M199.4 187.2h0.1M275.4 126.9h0.8M390.5 164.1h0.4M450.3 247.7h0.1M244.7 217.6h0.4M621.7 222.9h0.8M375.8 174.5h0.4M617.1 399.7h0.1M327.1 196.0h0.8M225.3 156.9h0.8M226.7 119.1h0.8M268.7 105.8h0.4M628.8 395.3h0.1M671.8 415.1h0.4M414.9 101.6h0.8M645.0 182.1h0.8M685.9 243.0h0.4M286.5 172.2h0.8M373.7 247.5h0.1M316.2 190.7h0.1M258.1 186.7h0.1M218.7 244.9h0.8M607.9 228.1h0.8M233.5 243.7h0.4M242.3 166.0h0.1M620.7 225.6h0.1M409.2 243.4h0.4M391.1 151.9h0.1M585.4 219.3h0.4M252.8 249.5h0.4M257.6 93.3h0.1M625.6 390.5h0.4M594.2 214.9h0.8M339.3 194.8h0.1M397.1 152.1h0.4M522.9 261.2h0.4M602.8 210.2h0.1M609.3 203.8h0.4M367.1 245.7h0.1M272.9 152.5h0.4M396.6 223.9h0.4M220.9 240.4h0.8M361.3 189.4h0.1M254.3 245.9h0.8M665.4 380.0h0.8M598.6 258.3h0.4M398.0 180.8h0.1M250.2 128.8h0.8M721.2 366.7h0.1M672.6 391.8h0.1M707.4 188.8h0.8M482.3 256.0h0.4M644.5 395.9h0.1M622.1 382.5h0.8M252.1 144.0h0.1M709.6 171.7h0.4M224.5 260.5h0.8M600.7 212.5h0.8M424.9 89.7h0.4M247.2 196.9h0.4M238.1 164.3h0.4M671.2 407.3h0.8M603.6 396.7h0.4M686.1 190.7h0.4M191.3 92.8h0.8M675.4 345.7h0.4M543.1 262.7h0.8M227.4 183.4h0.4M224.3 148.9h0.8M230.1 261.9h0.4M542.8 254.0h0.1M685.1 267.9h0.8M600.2 220.0h0.4M595.3 218.7h0.4M623.9 214.8h0.1M691.6 309.4h0.1M465.1 136.7h0.1M290.3 187.8h0.4M272.1 97.9h0.4M666.9 370.1h0.1M273.3 226.5h0.8M281.7 219.7h0.8M264.7 165.6h0.1M613.8 214.9h0.1M235.8 223.0h0.8M716.7 148.5h0.8M599.1 212.6h0.1M276.9 122.1h0.4M271.7 148.0h0.8M706.8 351.1h0.4M396.5 233.1h0.4M632.5 392.0h0.1M189.6 231.8h0.4M279.5 221.1h0.1M708.2 199.9h0.1M398.4 168.4h0.1M335.8 199.2h0.1M209.0 215.2h0.1M676.6 390.3h0.8M556.0 249.8h0.4M610.5 223.0h0.1M438.6 247.3h0.8M214.1 257.8h0.1M692.2 240.1h0.1M228.2 160.4h0.8M399.5 247.8h0.8M245.1 146.8h0.4M240.5 250.5h0.8M249.6 151.3h0.4M628.2 210.3h0.1M269.2 236.8h0.8M660.0 204.6h0.4M240.8 178.3h0.1M591.8 220.9h0.4M735.6 244.4h0.4M259.9 191.1h0.8M690.9 416.4h0.1M396.0 189.5h0.1M587.3 215.8h0.1M616.2 226.0h0.8M439.0 247.2h0.1M263.0 133.4h0.8M641.6 257.2h0.4M244.0 188.8h0.8M658.5 406.9h0.8M240.4 232.6h0.4M651.0 359.8h0.8M485.8 254.3h0.4M312.1 191.2h0.4M235.2 144.3h0.4M230.0 196.6h0.8M628.8 394.0h0.1M643.3 413.9h0.4M252.7 136.2h0.1M432.1 207.9h0.8M687.7 237.0h0.4M389.1 223.2h0.8M547.5 205.4h0.1M728.8 177.8h0.8M265.2 170.4h0.4M262.8 246.3h0.1M717.9 366.7h0.8M621.3 386.4h0.8M373.3 153.2h0.8M582.5 435.8h0.4M562.0 182.4h0.8M280.4 239.3h0.4M609.9 209.4h0.1M251.5 143.6h0.4M402.1 210.7h0.4M362.3 203.8h0.4M630.6 212.0h0.1M679.2 261.2h0.8M353.6 237.8h0.4M506.0 252.3h0.8M631.0 215.5h0.4M240.2 183.9h0.8M222.6 153.9h0.4M199.9 226.0h0.1M394.9 180.8h0.4M584.5 425.3h0.4M694.7 187.0h0.1M658.9 428.4h0.8M261.0 239.4h0.8M610.1 205.9h0.1M379.2 179.9h0.4M262.9 129.5h0.1M638.4 221.6h0.1M628.6 389.3h0.8M597.1 224.6h0.8M236.9 146.6h0.4M697.4 424.2h0.8M604.4 227.3h0.1M276.9 186.5h0.8M666.5 424.2h0.1M206.6 189.3h0.4M664.7 196.6h0.1M682.8 221.1h0.8M664.7 425.6h0.8M704.2 188.2h0.1M624.9 222.3h0.1M587.1 218.2h0.1M276.8 137.4h0.8M223.9 116.7h0.1M657.2 403.6h0.8M332.2 189.8h0.8M250.0 196.4h0.4M625.6 214.0h0.4M226.1 141.4h0.4M618.2 387.3h0.8M268.2 133.5h0.8M265.2 222.4h0.8M262.2 201.1h0.4M263.7 147.2h0.4M406.8 222.2h0.8M607.4 218.0h0.1M697.0 190.7h0.8M209.0 183.8h0.8M227.1 219.4h0.4M672.3 378.5h0.1M261.2 258.9h0.8M613.9 229.9h0.1M264.8 155.3h0.1M604.1 223.3h0.4M629.3 214.4h0.8M370.4 184.7h0.8M660.7 203.4h0.8M259.1 227.5h0.1M249.1 239.6h0.1M270.9 221.0h0.1M695.2 239.8h0.4M697.3 180.6h0.8M698.0 180.4h0.4M271.6 212.0h0.4M549.8 209.6h0.4M256.6 89.1h0.8M394.9 220.6h0.1M601.4 256.5h0.1M267.8 179.2h0.8M475.2 250.5h0.4M710.1 337.5h0.8M228.6 157.2h0.4M391.5 176.1h0.4M432.0 112.7h0.1M719.3 396.1h0.8M217.9 251.1h0.4M202.7 185.2h0.4M349.3 191.5h0.4M440.7 245.3h0.4M663.1 415.9h0.8M254.3 190.2h0.8M652.8 407.8h0.8M713.9 184.6h0.8M208.3 183.8h0.8M248.6 173.3h0.8M269.7 121.9h0.8M385.0 239.0h0.4M409.6 234.2h0.4M609.5 212.3h0.4M479.2 248.4h0.8M248.4 228.7h0.1M294.3 246.9h0.8M246.5 202.3h0.8M230.4 148.7h0.1M280.7 172.9h0.8M530.3 258.7h0.8M245.9 195.1h0.4M600.8 226.5h0.1M711.7 335.6h0.8M250.4 247.5h0.1M252.0 147.1h0.1M704.7 337.9h0.4M262.6 167.2h0.8M458.7 204.3h0.1M241.2 183.2h0.1M210.0 103.6h0.8M426.8 107.3h0.1M372.1 106.8h0.8M424.8 221.0h0.8M371.7 185.0h0.8M607.7 219.0h0.1M247.3 181.9h0.8M628.4 215.5h0.8M271.6 196.7h0.8M335.9 88.2h0.8M635.7 362.8h0.4M271.7 237.1h0.4M244.3 246.4h0.8M383.3 248.0h0.1M385.2 173.6h0.4M587.5 222.5h0.8M712.5 186.1h0.1M225.0 129.4h0.8M403.5 205.6h0.8M710.0 192.6h0.4M240.7 202.7h0.1M698.3 195.0h0.4M649.9 418.8h0.1M636.2 225.4h0.1M206.2 120.4h0.1M535.2 247.5h0.1M292.2 234.5h0.8M267.7 95.6h0.8M216.3 246.9h0.8M366.7 172.5h0.1M608.0 206.3h0.1M246.1 144.1h0.1M237.2 211.0h0.8M258.6 200.3h0.4M387.3 225.0h0.1M458.2 244.3h0.1M218.9 154.2h0.8M243.3 238.2h0.8M232.5 224.5h0.4M369.2 129.5h0.4M644.4 197.9h0.1M274.1 171.1h0.1M544.0 258.0h0.4M269.4 212.0h0.1M236.7 170.0h0.1M374.9 256.9h0.8M396.4 178.8h0.1M229.3 113.5h0.4M601.3 224.0h0.4M205.3 138.0h0.1M600.5 208.1h0.4M634.0 213.5h0.1M209.2 133.5h0.1M242.5 94.4h0.8M335.9 195.4h0.8M609.2 169.6h0.1M604.8 226.9h0.1M616.5 139.9h0.1M626.0 431.9h0.1M633.1 411.1h0.8M611.5 226.6h0.4M270.8 171.9h0.8M628.2 201.0h0.4M241.0 262.0h0.4M726.3 371.6h0.8M483.6 198.2h0.1M379.6 228.4h0.8M281.5 131.3h0.8M628.2 225.2h0.4M368.6 107.8h0.8M698.3 185.6h0.8M261.5 91.1h0.4M698.5 375.4h0.1M382.0 246.8h0.8M281.9 249.8h0.1M444.9 250.8h0.8M223.6 168.7h0.8M265.3 99.5h0.4M285.1 108.8h0.4M260.2 241.5h0.1M240.2 227.1h0.4M644.7 201.5h0.4M484.2 249.9h0.8M661.3 402.3h0.8M420.0 159.8h0.8M213.3 231.7h0.1M570.5 419.4h0.4M637.3 215.1h0.4M233.0 261.9h0.1M268.9 95.2h0.4M644.4 425.5h0.8M365.4 205.2h0.1M409.6 136.1h0.4M232.9 234.9h0.4M434.1 250.2h0.8M677.8 426.7h0.8M538.5 263.3h0.4M607.4 210.9h0.4M598.9 425.8h0.4M448.7 241.6h0.1M675.1 390.7h0.8M412.9 166.2h0.4M503.7 254.1h0.1M613.2 225.7h0.1M197.1 230.5h0.4M515.1 246.9h0.4M538.9 201.6h0.1M631.0 385.3h0.1M225.4 125.3h0.1M194.8 248.8h0.4M270.2 133.7h0.8M644.1 401.9h0.1M692.0 262.8h0.8M609.6 398.1h0.1M646.2 402.3h0.4M226.0 143.4h0.8M245.6 245.4h0.1M232.4 155.9h0.4M272.9 97.6h0.8M238.1 140.4h0.1M590.5 236.3h0.4M260.7 248.3h0.4M225.9 183.7h0.8M248.8 209.0h0.1M581.8 243.8h0.1M673.9 374.4h0.1M611.6 232.6h0.1M462.2 257.1h0.1M293.3 190.4h0.1M711.6 399.6h0.1M401.2 209.7h0.4M533.3 258.7h0.4M615.7 209.7h0.4M657.1 413.2h0.1M470.1 141.3h0.8M272.1 172.1h0.4M263.6 115.2h0.4M216.7 96.3h0.1M696.1 198.6h0.1M235.9 184.8h0.8M246.6 208.8h0.8M416.8 158.9h0.4M450.6 240.5h0.8M435.6 242.9h0.4M281.8 113.0h0.4M504.0 204.5h0.4M622.9 222.8h0.4M641.8 416.9h0.8M251.9 257.3h0.8M228.3 145.5h0.1M237.6 203.9h0.8M733.5 200.9h0.4M404.6 133.3h0.8M658.1 198.8h0.1M599.1 226.2h0.1M205.9 237.6h0.4M592.8 428.5h0.8M448.5 238.3h0.8M340.2 192.1h0.8M607.1 218.3h0.4M614.4 250.1h0.4M281.6 182.6h0.1M733.4 228.8h0.4M228.0 254.7h0.8M617.4 214.0h0.8M273.8 117.3h0.1M690.8 360.5h0.1M258.8 208.9h0.8M478.9 259.2h0.8M226.5 185.3h0.8M683.7 237.9h0.4M690.5 381.0h0.4M699.5 193.8h0.4M261.6 201.2h0.4M628.6 151.4h0.1M569.3 433.2h0.8M258.5 146.4h0.4M226.1 154.0h0.1M607.1 218.5h0.8M487.8 248.6h0.8M680.2 417.0h0.4M244.4 180.6h0.8M374.8 244.8h0.8M723.3 342.0h0.8M622.0 151.2h0.8M270.3 115.5h0.8M675.5 344.8h0.4M602.4 260.3h0.1M589.5 216.7h0.8M619.0 211.9h0.4M683.4 173.3h0.8M605.4 260.6h0.1M611.0 381.1h0.1M710.4 141.7h0.1M541.8 258.1h0.1M218.6 147.8h0.8M543.1 182.3h0.8M479.7 262.7h0.4M532.1 259.6h0.4M229.7 224.2h0.8M318.6 194.5h0.1M604.8 227.5h0.1M410.4 234.9h0.8M539.8 223.5h0.4M696.0 423.5h0.4M382.4 177.3h0.1M275.3 162.8h0.8M600.2 262.2h0.8M248.5 148.1h0.8M448.7 249.3h0.4M385.1 259.4h0.8M200.1 113.2h0.1M350.9 183.2h0.8M263.0 207.2h0.8M228.5 240.1h0.1M236.7 174.6h0.8M452.7 234.6h0.4M275.0 177.1h0.4M620.0 389.9h0.1M438.5 244.6h0.8M264.4 242.6h0.1M245.7 241.7h0.8M256.6 161.3h0.1M623.4 229.6h0.4M495.8 252.0h0.8M228.4 173.2h0.1M249.4 236.8h0.1M218.8 149.4h0.8M236.4 237.6h0.1M599.9 196.8h0.8M236.9 152.2h0.8M426.6 257.7h0.4M678.3 422.7h0.4M269.1 121.5h0.8M265.7 99.3h0.8M228.4 142.3h0.4M210.7 239.0h0.8M351.8 258.3h0.1M335.7 192.5h0.4M487.1 260.9h0.8M608.1 217.8h0.1M206.6 261.1h0.8M668.3 381.6h0.1M729.6 413.3h0.4M392.0 176.4h0.1M265.7 116.8h0.8M621.5 221.7h0.1M626.8 215.7h0.1M668.9 384.6h0.1M515.5 260.5h0.1M218.6 106.7h0.4M455.0 244.2h0.4M542.1 261.8h0.1M267.8 137.0h0.4M601.9 216.1h0.4M231.6 255.5h0.1M256.6 246.9h0.4M617.6 223.8h0.8M245.6 133.9h0.1M393.9 176.5h0.4M382.1 176.6h0.1"/>
<path stroke="#888" stroke-width="0.8" stroke-linecap="round" d="M425.8 222.0h0.4M380.2 240.6h0.1M277.6 183.4h0.8M234.3 146.4h0.1M379.2 99.5h0.8M694.7 405.4h0.8M281.6 187.8h0.1M457.3 237.3h0.1M241.4 171.7h0.4M622.6 399.6h0.4M694.6 366.2h0.4M597.4 256.3h0.8M604.2 203.5h0.1M270.8 146.4h0.8M522.2 251.4h0.8M737.9 190.1h0.4M259.5 144.8h0.8M636.8 204.7h0.8M227.4 135.3h0.4M451.3 116.5h0.4M247.8 232.1h0.8M637.0 427.2h0.4M312.4 119.3h0.1M631.4 216.7h0.8M624.8 226.5h0.8M600.3 223.9h0.8M702.8 378.6h0.4M243.7 126.8h0.1M615.4 228.6h0.8M395.1 148.1h0.8M354.0 253.8h0.4M507.7 241.4h0.8M241.9 111.0h0.4M233.4 155.3h0.8M232.5 177.9h0.4M250.6 199.4h0.4M265.3 140.4h0.4M649.4 356.3h0.4M239.6 142.6h0.4M687.0 432.0h0.4M553.3 256.4h0.8M237.8 154.8h0.4M558.1 253.6h0.8M323.5 209.2h0.1M240.5 145.6h0.1M662.8 254.5h0.1M626.4 142.8h0.8M726.4 183.7h0.4M674.7 317.4h0.8M217.7 143.0h0.1M271.3 248.5h0.4M595.9 242.9h0.1M708.4 189.8h0.4M500.2 197.2h0.8M237.0 220.4h0.1M270.5 172.7h0.1M662.6 400.2h0.4M231.1 223.0h0.4M670.7 435.5h0.4M246.6 211.4h0.1M251.7 217.9h0.1M267.1 244.7h0.4M641.3 237.6h0.1M309.2 177.3h0.4M280.8 164.4h0.1M695.5 298.0h0.8M451.4 252.6h0.8M592.7 230.7h0.1M390.4 255.3h0.4M267.5 250.0h0.1M346.5 88.9h0.8M350.3 97.4h0.8M679.6 425.8h0.1M426.9 125.0h0.8M257.3 218.8h0.8M246.2 195.9h0.4M254.2 142.1h0.1M565.5 435.8h0.1M222.0 146.8h0.1M253.7 262.9h0.4M416.8 225.6h0.4M409.8 166.9h0.1M275.6 160.0h0.4M248.7 172.7h0.1M239.2 165.3h0.4M710.3 288.4h0.4M599.2 206.1h0.8M277.3 235.8h0.8M590.8 226.5h0.8M252.1 226.8h0.8M622.6 194.6h0.1M220.3 159.1h0.8M490.8 228.7h0.1M688.3 171.0h0.4M722.6 255.3h0.4M271.5 85.8h0.4M635.1 367.6h0.1M380.1 256.8h0.4M253.2 205.4h0.4M586.4 249.4h0.1M391.3 230.2h0.1M636.2 379.7h0.1M610.6 229.6h0.8M615.7 199.6h0.8M586.3 216.1h0.8M352.7 257.5h0.4M250.3 237.3h0.4M648.8 397.4h0.8M273.9 100.7h0.8M382.3 89.9h0.8M390.6 158.5h0.1M253.5 241.5h0.8M646.0 399.9h0.8M217.6 238.4h0.8M204.1 116.7h0.8M263.9 169.4h0.4M222.7 255.9h0.4M227.5 137.2h0.1M590.2 230.7h0.8M201.5 227.7h0.4M477.0 255.8h0.4M360.7 207.7h0.1M225.5 228.1h0.8M692.1 290.5h0.4M370.1 124.9h0.1M656.2 389.7h0.4M498.8 261.9h0.1M707.8 287.7h0.4M599.7 195.7h0.8M343.4 193.2h0.8M255.9 148.9h0.1M558.6 169.3h0.1M267.0 128.0h0.8M521.0 263.7h0.8M258.7 151.8h0.8M249.1 234.4h0.4M235.3 225.6h0.1M512.7 255.6h0.1M337.1 187.6h0.4M720.0 394.1h0.8M449.3 234.3h0.1M238.0 227.5h0.8M269.0 139.0h0.8M271.4 120.6h0.4M631.4 221.5h0.1M310.5 191.8h0.1M230.3 165.3h0.4M226.8 249.7h0.8M256.0 94.7h0.1M682.2 433.8h0.1M275.8 261.5h0.8M474.0 255.0h0.8M386.7 194.0h0.4M260.4 176.1h0.4M383.6 144.2h0.4M627.6 403.4h0.8M272.7 90.6h0.4M592.0 431.7h0.4M458.7 202.2h0.1M603.3 179.3h0.8M646.4 403.2h0.1M471.0 257.5h0.8M386.4 132.7h0.8M261.0 141.9h0.8M588.7 200.0h0.4M353.5 203.1h0.4M228.2 131.9h0.1M611.2 158.2h0.1M628.4 228.6h0.1M256.9 174.7h0.1M275.9 122.3h0.4M269.2 233.1h0.1M248.7 120.0h0.8M684.2 425.3h0.8M636.9 383.0h0.1M236.3 196.1h0.1M243.5 182.7h0.1M243.7 209.6h0.4M399.6 189.2h0.4M694.6 145.5h0.1M609.8 259.7h0.1M269.2 167.7h0.8M265.0 127.2h0.4M273.2 170.8h0.4M615.1 212.0h0.4M441.8 243.5h0.1M679.5 310.3h0.8M492.0 249.2h0.1M489.4 225.7h0.1M272.2 150.5h0.8M597.9 398.0h0.1M424.1 89.6h0.4M614.5 201.0h0.4M591.9 239.6h0.1M335.7 182.1h0.8M252.5 165.7h0.1M329.5 188.5h0.8M607.3 390.8h0.4M627.4 219.6h0.4M641.1 254.3h0.8M262.6 205.5h0.4M698.3 180.4h0.4M377.1 242.5h0.1M247.7 161.3h0.8M185.6 229.9h0.1M729.8 202.2h0.4M374.3 144.3h0.8M625.7 239.2h0.4M341.1 98.0h0.1M234.1 239.0h0.1M628.0 158.2h0.4M544.9 257.7h0.1M700.0 248.1h0.1M707.2 189.7h0.1M240.0 198.9h0.1M398.4 227.9h0.1M689.1 396.5h0.8M304.4 240.5h0.4M420.8 174.1h0.4M272.5 230.3h0.4M264.3 208.6h0.4M589.3 225.3h0.8M600.5 422.6h0.8M260.0 138.5h0.4M333.7 186.4h0.4M224.6 114.8h0.8M618.4 212.3h0.4M225.5 189.4h0.4M244.4 235.7h0.1M637.8 239.0h0.4M584.6 416.6h0.8M697.8 300.6h0.4M590.5 236.4h0.1M595.6 216.3h0.8M612.4 256.2h0.1M629.6 145.9h0.4M218.2 155.7h0.1M277.8 222.6h0.1M256.1 91.0h0.1M583.8 185.1h0.4M707.7 181.6h0.4M610.4 211.2h0.8M598.1 220.2h0.8M203.7 137.0h0.8M351.2 238.5h0.4M428.6 221.8h0.8M553.2 207.4h0.1M692.2 203.2h0.4M311.5 193.0h0.4M708.8 334.1h0.4M367.6 250.3h0.8M240.7 259.3h0.8M600.7 188.5h0.1M619.5 223.5h0.4M222.0 139.8h0.8M688.0 304.0h0.1M616.7 216.2h0.4M645.4 203.7h0.1M642.1 408.4h0.8M256.7 188.6h0.1M245.9 138.9h0.8M352.7 257.7h0.1M669.9 387.5h0.1M215.8 229.8h0.1M241.2 147.1h0.8M683.7 176.2h0.4M598.4 198.9h0.8M645.3 408.3h0.1M623.7 216.2h0.4M411.1 228.2h0.8M280.0 255.6h0.1M396.3 190.5h0.1M628.0 372.4h0.8M243.4 210.3h0.4M523.6 251.1h0.8M212.8 232.4h0.4M240.3 197.3h0.1M266.6 160.3h0.8M419.7 259.8h0.4M240.5 197.0h0.1M241.9 259.8h0.8M250.1 214.3h0.8M719.6 392.3h0.1M642.8 214.9h0.8M580.0 254.7h0.8M233.2 257.6h0.1M388.5 126.9h0.4M263.8 213.5h0.1M267.4 128.7h0.8M407.6 170.3h0.4M625.0 200.0h0.8M421.5 220.7h0.1M698.5 189.9h0.4M428.6 249.9h0.1M263.7 146.0h0.1M527.0 233.9h0.1M687.4 365.9h0.1M334.4 259.2h0.8M248.4 156.4h0.1M231.5 106.3h0.1"/>
<path stroke="#2a2a2a" stroke-width="1.0" stroke-linecap="round" d="M189.1 233.0h0.1M634.0 417.5h0.1M696.8 190.9h0.4M413.5 126.3h0.4M724.2 377.6h0.4M594.6 428.8h0.1M220.2 189.4h0.8M236.1 177.9h0.4M351.6 246.2h0.4M354.2 194.0h0.8M610.1 224.1h0.8M307.6 189.6h0.1M614.4 222.5h0.1M613.6 216.0h0.4M700.0 190.7h0.8M603.1 223.3h0.8M274.5 218.6h0.8M617.5 401.5h0.4M250.5 194.3h0.8M682.1 329.6h0.8M591.2 216.1h0.4M481.5 252.2h0.1M298.5 239.5h0.4M632.3 420.0h0.1M557.0 234.0h0.4M719.9 337.0h0.4M387.5 177.9h0.8M545.6 201.8h0.8M436.7 235.6h0.8M632.6 235.0h0.1M261.7 141.4h0.4M258.8 96.3h0.4M694.6 424.0h0.4M269.5 94.3h0.8M347.2 193.4h0.1M258.5 222.1h0.1M390.8 173.4h0.8M225.2 211.1h0.1M376.1 136.6h0.1M440.1 217.4h0.8M608.4 222.5h0.1M604.6 229.9h0.4M240.6 197.4h0.1M418.2 183.6h0.8M589.0 436.0h0.4M549.7 203.0h0.8M592.9 429.5h0.4M698.0 325.0h0.4M641.6 263.7h0.8M584.5 218.2h0.4M272.9 263.0h0.8M238.2 186.7h0.1M395.9 173.2h0.4M254.1 224.2h0.8M624.8 221.5h0.4M271.8 215.7h0.4M226.3 238.9h0.4M372.9 185.2h0.8M669.8 435.9h0.4M540.2 262.6h0.8M267.2 148.6h0.1M268.7 157.6h0.8M252.6 175.9h0.8M406.5 222.5h0.1M411.8 221.8h0.1M604.7 217.0h0.1M615.0 216.9h0.1M254.9 245.1h0.8M554.4 238.0h0.8M464.1 89.5h0.1M626.4 144.0h0.4M351.3 245.7h0.4M524.9 232.2h0.1M266.5 124.7h0.4M598.8 227.6h0.4M238.7 151.6h0.1M615.1 195.2h0.1M719.2 208.7h0.1M230.2 244.2h0.1M588.4 434.8h0.8M647.4 404.6h0.1M628.7 223.4h0.1M414.3 114.4h0.8M274.5 106.5h0.4M587.3 433.9h0.8M277.7 91.4h0.4M646.4 400.7h0.8M473.2 206.5h0.1M357.6 220.8h0.1M218.4 92.5h0.1M640.3 202.9h0.4M601.0 206.2h0.8M606.8 229.5h0.1M226.6 148.0h0.1M609.7 207.5h0.4M245.5 208.3h0.4M246.1 164.5h0.1M374.7 203.5h0.1M212.3 138.1h0.8M552.0 198.5h0.4M633.3 394.5h0.8M672.0 145.6h0.8M276.9 176.7h0.8M732.0 218.3h0.4M243.7 203.4h0.4M384.6 262.5h0.4M203.7 143.3h0.8M229.6 223.1h0.4M393.6 220.0h0.1M243.9 170.1h0.1M729.8 195.9h0.4M615.9 218.6h0.8M229.5 239.6h0.1M463.6 201.3h0.1M734.9 198.3h0.4M265.4 177.9h0.4M541.1 263.3h0.1M231.3 236.0h0.1M639.3 364.4h0.1M649.2 403.8h0.8M607.0 210.2h0.8M545.9 259.5h0.8M269.3 137.2h0.8M264.6 250.8h0.4M266.0 187.8h0.4M681.3 388.0h0.4M701.8 190.7h0.8M407.7 224.0h0.4M406.5 238.7h0.4M392.0 221.1h0.1M586.1 221.3h0.1M720.8 282.1h0.4M608.8 398.5h0.4M607.4 401.4h0.4M261.2 94.6h0.1M544.3 257.0h0.1M266.5 155.0h0.1M594.5 216.0h0.8M582.8 431.3h0.8M216.7 248.4h0.1M706.9 194.0h0.1M683.2 380.0h0.4M264.1 171.9h0.4M516.8 237.0h0.1M236.0 222.8h0.8M198.0 231.2h0.1M226.7 178.4h0.4M609.2 398.7h0.4M491.2 250.6h0.8M648.6 401.1h0.8M322.7 181.8h0.4M612.9 254.5h0.8M223.4 182.9h0.4M222.8 174.0h0.4M620.7 216.1h0.4M325.6 84.4h0.8M325.4 261.3h0.4M243.7 192.5h0.8M264.0 143.1h0.8M413.4 194.5h0.1M646.1 411.1h0.1M272.0 157.1h0.1M268.3 93.9h0.1M252.4 195.7h0.4M223.1 244.2h0.1M353.7 198.3h0.4M610.7 403.6h0.4M221.7 140.1h0.4M262.1 141.4h0.8M485.3 254.7h0.4M615.8 256.9h0.4M395.4 224.5h0.1M605.4 220.4h0.1M257.0 251.7h0.8M430.1 117.6h0.8M256.9 210.3h0.4M695.0 305.0h0.4M732.0 195.8h0.4M396.5 175.4h0.1M582.0 216.1h0.4M621.7 386.7h0.1M263.1 247.5h0.8M624.3 219.0h0.4M247.0 150.4h0.4M398.5 182.1h0.1M280.7 178.2h0.1M625.3 213.8h0.1M621.8 215.8h0.1M520.3 261.5h0.4M324.5 173.2h0.1M351.1 254.0h0.4M266.7 169.7h0.8M647.0 406.7h0.1M578.3 428.3h0.8M644.3 399.4h0.1M474.2 202.5h0.1M253.7 243.4h0.1M344.3 191.2h0.8M244.3 190.2h0.4M232.6 123.5h0.8M598.6 221.4h0.1M257.0 242.4h0.4M623.7 221.7h0.8M672.5 295.9h0.4M254.4 241.9h0.1M239.4 233.7h0.8M393.9 178.5h0.4M495.8 260.4h0.4M398.5 170.2h0.1M462.9 106.1h0.1M728.6 323.5h0.8M269.8 225.2h0.1M247.9 207.5h0.1M245.2 179.1h0.8M683.3 355.4h0.4M211.7 143.8h0.8M318.7 187.3h0.8M231.0 235.1h0.8M608.7 396.8h0.4M424.2 259.5h0.8M622.4 389.1h0.1M692.4 310.8h0.8M605.5 211.5h0.4M377.1 151.6h0.1M601.2 222.6h0.4M257.2 219.7h0.1M704.9 349.5h0.4M632.3 234.5h0.4M422.3 224.9h0.8M246.2 187.6h0.8M375.6 257.7h0.1M467.7 201.0h0.4M346.8 263.3h0.1M362.1 246.5h0.1M671.7 246.7h0.1M625.8 388.3h0.1M215.0 189.0h0.1M263.2 90.5h0.8M375.8 198.7h0.4M371.8 237.0h0.4M381.0 259.8h0.8M600.2 211.5h0.8M602.2 222.3h0.8M409.0 135.0h0.8M382.3 260.2h0.8M596.0 223.6h0.4M251.7 168.6h0.4M690.7 299.3h0.1M596.4 174.7h0.1M434.8 238.0h0.4M198.8 145.2h0.4M259.9 163.4h0.1M247.6 209.6h0.4M551.9 232.4h0.1M272.2 247.9h0.8M225.3 237.0h0.4M597.1 218.8h0.1M246.9 150.3h0.8M262.2 127.0h0.8M204.7 113.3h0.1M411.4 194.2h0.1M625.6 212.8h0.4M633.4 209.0h0.8M663.7 382.0h0.8M349.0 192.9h0.1M593.3 218.4h0.4M399.2 174.9h0.8M221.3 255.1h0.1M600.6 218.3h0.8M240.0 151.6h0.4M434.1 179.6h0.1M372.8 113.0h0.4M704.5 187.3h0.4M267.8 213.3h0.4M657.3 404.8h0.4M384.3 148.1h0.8M544.0 253.9h0.8M261.9 92.0h0.4M233.1 242.0h0.8M402.8 207.1h0.4M628.5 225.5h0.1M279.3 171.7h0.1M595.5 216.4h0.4M445.1 247.7h0.8M412.8 133.9h0.4M228.8 245.6h0.4M253.0 201.5h0.8M612.4 225.3h0.8M547.9 203.2h0.1M560.2 414.8h0.4M534.2 261.4h0.8M262.2 183.0h0.4M598.2 222.4h0.1M669.0 315.1h0.4M677.2 420.8h0.1M722.4 278.0h0.4M297.9 187.7h0.1M205.8 232.9h0.8"/>
</g>
<defs><filter id="soft" x="0" y="0" width="882" height="588" filterUnits="userSpaceOnUse"><feGaussianBlur stdDeviation="0.42"/></filter></defs>
<polygon points="108,440.6 571.3,442.8 638.4,513 761.5,388.7 818,388.7 818.1,518.2 108,514.1" fill="#a4b0dc" fill-opacity="0.45" stroke="none"/>
<polygon points="108,440.6 571.3,442.8 638.4,513 761.5,388.7 818,388.7 818.1,518.2 108,514.1" fill="none" stroke="#5b80bd" stroke-width="1.3" stroke-linejoin="miter"/>
<rect x="270.4" y="464" width="162.1" height="24.5" fill="#fff"/>
<g font-family="Liberation Sans" font-weight="bold" font-size="8.7" fill="#151a3a" stroke="#151a3a" stroke-width="0.3" lengthAdjust="spacingAndGlyphs">
<text x="286.9" y="479.85" textLength="54" lengthAdjust="spacingAndGlyphs">OUTDOOR</text>
<text x="345.2" y="479.85" textLength="29.8" lengthAdjust="spacingAndGlyphs">PATIO</text>
<text x="378.9" y="479.85" textLength="36.1" lengthAdjust="spacingAndGlyphs">SPACE</text>
</g>
<g font-family="Liberation Sans" font-weight="bold" font-size="7.1" fill="#4a76c6" stroke="#4a76c6" stroke-width="0.3">
<text x="140.95000000000002" y="349.95" textLength="25.6" lengthAdjust="spacingAndGlyphs">$5.50</text><text transform="translate(171.0 349.95) scale(1.2 1)" dx="0 1.4 0.55">PSF</text>
<text x="253.95000000000002" y="349.95" textLength="25.6" lengthAdjust="spacingAndGlyphs">$4.20</text><text transform="translate(284.0 349.95) scale(1.2 1)" dx="0 1.4 0.55">PSF</text>
<text x="367.34999999999997" y="349.95" textLength="25.6" lengthAdjust="spacingAndGlyphs">$4.50</text><text transform="translate(397.4 349.95) scale(1.2 1)" dx="0 1.4 0.55">PSF</text>
<text x="478.04999999999995" y="349.95" textLength="25.6" lengthAdjust="spacingAndGlyphs">$4.70</text><text transform="translate(508.09999999999997 349.95) scale(1.2 1)" dx="0 1.4 0.55">PSF</text>
<text x="589.75" y="349.95" textLength="25.6" lengthAdjust="spacingAndGlyphs">$8.50</text><text transform="translate(619.8000000000001 349.95) scale(1.2 1)" dx="0 1.4 0.55">PSF</text>
</g>
<g font-family="Liberation Sans" font-weight="bold" font-size="19.6" fill="#111" stroke="#111" stroke-width="0.9"><text transform="translate(715.80 557.1) scale(1.110 1)">M</text><text transform="translate(735.31 557.1) scale(1.062 1)">A</text><text transform="translate(752.71 557.1) scale(1.032 1)">T</text><text transform="translate(767.70 557.1) scale(1.016 1)">T</text><text transform="translate(782.11 557.1) scale(1.097 1)">H</text><text transform="translate(799.33 557.1) scale(0.857 1)">E</text><text transform="translate(812.56 557.1) scale(1.128 1)">W</text><text transform="translate(835.50 557.1) scale(1.016 1)">S</text></g>
</svg>
</body></html>
